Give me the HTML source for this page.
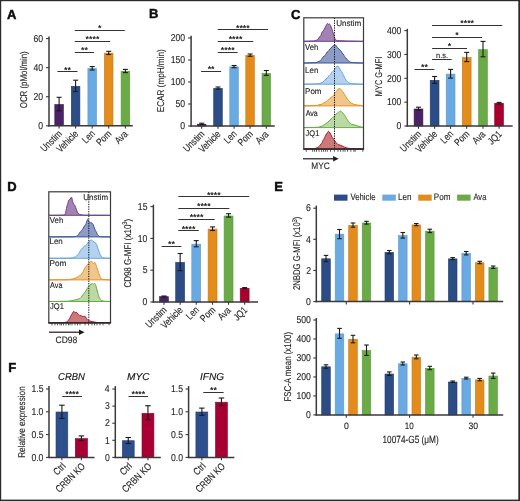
<!DOCTYPE html>
<html><head><meta charset="utf-8"><style>
html,body{margin:0;padding:0;background:#fff;}
svg{display:block;font-family:"Liberation Sans", sans-serif;will-change:transform;text-rendering:geometricPrecision;}
</style></head><body>
<svg width="520" height="501" viewBox="0 0 520 501">
<rect width="520" height="501" fill="#fff"/>
<text transform="translate(7.08 18.50)" font-size="13" fill="#0d0d0d" font-weight="bold" stroke="#0d0d0d" stroke-width="0.45">A</text>
<line x1="49.00" y1="36.50" x2="49.00" y2="126.50" stroke="#3a3a3a" stroke-width="1.5"/>
<line x1="46.00" y1="125.80" x2="49.00" y2="125.80" stroke="#3a3a3a" stroke-width="1.1"/>
<text transform="translate(38.20 129.00) scale(0.865 1.000)" font-size="10.0" fill="#262626" stroke="#262626" stroke-width="0.12">0</text>
<line x1="46.00" y1="96.73" x2="49.00" y2="96.73" stroke="#3a3a3a" stroke-width="1.1"/>
<text transform="translate(33.40 99.93) scale(0.865 1.000)" font-size="10.0" fill="#262626" stroke="#262626" stroke-width="0.12">20</text>
<line x1="46.00" y1="67.67" x2="49.00" y2="67.67" stroke="#3a3a3a" stroke-width="1.1"/>
<text transform="translate(33.40 70.87) scale(0.865 1.000)" font-size="10.0" fill="#262626" stroke="#262626" stroke-width="0.12">40</text>
<line x1="46.00" y1="38.60" x2="49.00" y2="38.60" stroke="#3a3a3a" stroke-width="1.1"/>
<text transform="translate(33.40 41.80) scale(0.865 1.000)" font-size="10.0" fill="#262626" stroke="#262626" stroke-width="0.12">60</text>
<rect x="54.80" y="104.50" width="8.60" height="21.30" fill="#4b2266" stroke="#3a1850" stroke-width="0.6"/>
<rect x="71.30" y="86.30" width="8.60" height="39.50" fill="#2b4c85" stroke="#213d6e" stroke-width="0.6"/>
<rect x="87.90" y="68.60" width="8.60" height="57.20" fill="#6aaae2" stroke="#5a98d0" stroke-width="0.6"/>
<rect x="104.40" y="53.20" width="8.60" height="72.60" fill="#e38c1c" stroke="#c97a12" stroke-width="0.6"/>
<rect x="121.10" y="71.30" width="8.60" height="54.50" fill="#6aab48" stroke="#5a993a" stroke-width="0.6"/>
<line x1="59.10" y1="97.30" x2="59.10" y2="110.80" stroke="#1a1a1a" stroke-width="1.1"/>
<line x1="56.60" y1="97.30" x2="61.60" y2="97.30" stroke="#1a1a1a" stroke-width="1.1"/>
<line x1="56.60" y1="110.80" x2="61.60" y2="110.80" stroke="#1a1a1a" stroke-width="1.1"/>
<line x1="75.60" y1="80.20" x2="75.60" y2="91.50" stroke="#1a1a1a" stroke-width="1.1"/>
<line x1="73.10" y1="80.20" x2="78.10" y2="80.20" stroke="#1a1a1a" stroke-width="1.1"/>
<line x1="73.10" y1="91.50" x2="78.10" y2="91.50" stroke="#1a1a1a" stroke-width="1.1"/>
<line x1="92.20" y1="66.60" x2="92.20" y2="70.00" stroke="#1a1a1a" stroke-width="1.1"/>
<line x1="89.70" y1="66.60" x2="94.70" y2="66.60" stroke="#1a1a1a" stroke-width="1.1"/>
<line x1="89.70" y1="70.00" x2="94.70" y2="70.00" stroke="#1a1a1a" stroke-width="1.1"/>
<line x1="108.70" y1="51.30" x2="108.70" y2="54.50" stroke="#1a1a1a" stroke-width="1.1"/>
<line x1="106.20" y1="51.30" x2="111.20" y2="51.30" stroke="#1a1a1a" stroke-width="1.1"/>
<line x1="106.20" y1="54.50" x2="111.20" y2="54.50" stroke="#1a1a1a" stroke-width="1.1"/>
<line x1="125.40" y1="69.40" x2="125.40" y2="72.60" stroke="#1a1a1a" stroke-width="1.1"/>
<line x1="122.90" y1="69.40" x2="127.90" y2="69.40" stroke="#1a1a1a" stroke-width="1.1"/>
<line x1="122.90" y1="72.60" x2="127.90" y2="72.60" stroke="#1a1a1a" stroke-width="1.1"/>
<line x1="48.30" y1="125.80" x2="132.80" y2="125.80" stroke="#3a3a3a" stroke-width="1.5"/>
<line x1="59.10" y1="125.80" x2="59.10" y2="128.60" stroke="#3a3a3a" stroke-width="1.1"/>
<line x1="75.60" y1="125.80" x2="75.60" y2="128.60" stroke="#3a3a3a" stroke-width="1.1"/>
<line x1="92.20" y1="125.80" x2="92.20" y2="128.60" stroke="#3a3a3a" stroke-width="1.1"/>
<line x1="108.70" y1="125.80" x2="108.70" y2="128.60" stroke="#3a3a3a" stroke-width="1.1"/>
<line x1="125.40" y1="125.80" x2="125.40" y2="128.60" stroke="#3a3a3a" stroke-width="1.1"/>
<line x1="74.80" y1="30.50" x2="124.80" y2="30.50" stroke="#333333" stroke-width="1.0"/>
<text transform="translate(98.08 31.00)" font-size="8.8" fill="#1a1a1a" font-weight="bold">*</text>
<line x1="74.80" y1="41.50" x2="110.10" y2="41.50" stroke="#333333" stroke-width="1.0"/>
<text transform="translate(85.61 41.70)" font-size="8.8" fill="#1a1a1a" font-weight="bold">****</text>
<line x1="74.80" y1="52.50" x2="94.10" y2="52.50" stroke="#333333" stroke-width="1.0"/>
<text transform="translate(81.02 52.90)" font-size="8.8" fill="#1a1a1a" font-weight="bold">**</text>
<line x1="57.40" y1="71.50" x2="77.50" y2="71.50" stroke="#333333" stroke-width="1.0"/>
<text transform="translate(64.02 72.50)" font-size="8.8" fill="#1a1a1a" font-weight="bold">**</text>
<text transform="translate(62.45 134.45) rotate(-45) scale(0.810 1.000)" font-size="10.0" text-anchor="end" fill="#262626" stroke="#262626" stroke-width="0.12">Unstim</text>
<text transform="translate(78.86 134.54) rotate(-45) scale(0.810 1.000)" font-size="10.0" text-anchor="end" fill="#262626" stroke="#262626" stroke-width="0.12">Vehicle</text>
<text transform="translate(95.59 134.41) rotate(-45) scale(0.810 1.000)" font-size="10.0" text-anchor="end" fill="#262626" stroke="#262626" stroke-width="0.12">Len</text>
<text transform="translate(112.05 134.45) rotate(-45) scale(0.810 1.000)" font-size="10.0" text-anchor="end" fill="#262626" stroke="#262626" stroke-width="0.12">Pom</text>
<text transform="translate(128.40 134.80) rotate(-45) scale(0.810 1.000)" font-size="10.0" text-anchor="end" fill="#262626" stroke="#262626" stroke-width="0.12">Ava</text>
<text transform="translate(26.80 108.25) rotate(-90) scale(0.805 1.000)" font-size="9.8" fill="#262626" stroke="#262626" stroke-width="0.12">OCR (pMol/min)</text>
<text transform="translate(149.06 18.30)" font-size="13" fill="#0d0d0d" font-weight="bold" stroke="#0d0d0d" stroke-width="0.45">B</text>
<line x1="191.10" y1="35.80" x2="191.10" y2="126.70" stroke="#3a3a3a" stroke-width="1.5"/>
<line x1="188.10" y1="126.00" x2="191.10" y2="126.00" stroke="#3a3a3a" stroke-width="1.1"/>
<text transform="translate(180.30 129.20) scale(0.865 1.000)" font-size="10.0" fill="#262626" stroke="#262626" stroke-width="0.12">0</text>
<line x1="188.10" y1="104.00" x2="191.10" y2="104.00" stroke="#3a3a3a" stroke-width="1.1"/>
<text transform="translate(175.50 107.20) scale(0.865 1.000)" font-size="10.0" fill="#262626" stroke="#262626" stroke-width="0.12">50</text>
<line x1="188.10" y1="82.00" x2="191.10" y2="82.00" stroke="#3a3a3a" stroke-width="1.1"/>
<text transform="translate(170.70 85.20) scale(0.865 1.000)" font-size="10.0" fill="#262626" stroke="#262626" stroke-width="0.12">100</text>
<line x1="188.10" y1="60.00" x2="191.10" y2="60.00" stroke="#3a3a3a" stroke-width="1.1"/>
<text transform="translate(170.70 63.20) scale(0.865 1.000)" font-size="10.0" fill="#262626" stroke="#262626" stroke-width="0.12">150</text>
<line x1="188.10" y1="38.00" x2="191.10" y2="38.00" stroke="#3a3a3a" stroke-width="1.1"/>
<text transform="translate(170.70 41.20) scale(0.865 1.000)" font-size="10.0" fill="#262626" stroke="#262626" stroke-width="0.12">200</text>
<rect x="197.40" y="124.20" width="8.60" height="1.80" fill="#4b2266" stroke="#3a1850" stroke-width="0.6"/>
<rect x="213.70" y="88.40" width="8.60" height="37.60" fill="#2b4c85" stroke="#213d6e" stroke-width="0.6"/>
<rect x="229.80" y="66.90" width="8.60" height="59.10" fill="#6aaae2" stroke="#5a98d0" stroke-width="0.6"/>
<rect x="245.80" y="55.50" width="8.60" height="70.50" fill="#e38c1c" stroke="#c97a12" stroke-width="0.6"/>
<rect x="262.00" y="73.50" width="8.60" height="52.50" fill="#6aab48" stroke="#5a993a" stroke-width="0.6"/>
<line x1="201.70" y1="123.20" x2="201.70" y2="124.60" stroke="#1a1a1a" stroke-width="1.1"/>
<line x1="199.20" y1="123.20" x2="204.20" y2="123.20" stroke="#1a1a1a" stroke-width="1.1"/>
<line x1="199.20" y1="124.60" x2="204.20" y2="124.60" stroke="#1a1a1a" stroke-width="1.1"/>
<line x1="218.00" y1="87.00" x2="218.00" y2="89.20" stroke="#1a1a1a" stroke-width="1.1"/>
<line x1="215.50" y1="87.00" x2="220.50" y2="87.00" stroke="#1a1a1a" stroke-width="1.1"/>
<line x1="215.50" y1="89.20" x2="220.50" y2="89.20" stroke="#1a1a1a" stroke-width="1.1"/>
<line x1="234.10" y1="65.50" x2="234.10" y2="67.70" stroke="#1a1a1a" stroke-width="1.1"/>
<line x1="231.60" y1="65.50" x2="236.60" y2="65.50" stroke="#1a1a1a" stroke-width="1.1"/>
<line x1="231.60" y1="67.70" x2="236.60" y2="67.70" stroke="#1a1a1a" stroke-width="1.1"/>
<line x1="250.10" y1="54.00" x2="250.10" y2="56.30" stroke="#1a1a1a" stroke-width="1.1"/>
<line x1="247.60" y1="54.00" x2="252.60" y2="54.00" stroke="#1a1a1a" stroke-width="1.1"/>
<line x1="247.60" y1="56.30" x2="252.60" y2="56.30" stroke="#1a1a1a" stroke-width="1.1"/>
<line x1="266.30" y1="70.50" x2="266.30" y2="75.40" stroke="#1a1a1a" stroke-width="1.1"/>
<line x1="263.80" y1="70.50" x2="268.80" y2="70.50" stroke="#1a1a1a" stroke-width="1.1"/>
<line x1="263.80" y1="75.40" x2="268.80" y2="75.40" stroke="#1a1a1a" stroke-width="1.1"/>
<line x1="190.40" y1="126.00" x2="274.80" y2="126.00" stroke="#3a3a3a" stroke-width="1.5"/>
<line x1="201.70" y1="126.00" x2="201.70" y2="128.80" stroke="#3a3a3a" stroke-width="1.1"/>
<line x1="218.00" y1="126.00" x2="218.00" y2="128.80" stroke="#3a3a3a" stroke-width="1.1"/>
<line x1="234.10" y1="126.00" x2="234.10" y2="128.80" stroke="#3a3a3a" stroke-width="1.1"/>
<line x1="250.10" y1="126.00" x2="250.10" y2="128.80" stroke="#3a3a3a" stroke-width="1.1"/>
<line x1="266.30" y1="126.00" x2="266.30" y2="128.80" stroke="#3a3a3a" stroke-width="1.1"/>
<line x1="217.80" y1="29.50" x2="267.90" y2="29.50" stroke="#333333" stroke-width="1.0"/>
<text transform="translate(236.01 30.50)" font-size="8.8" fill="#1a1a1a" font-weight="bold">****</text>
<line x1="217.80" y1="41.50" x2="253.20" y2="41.50" stroke="#333333" stroke-width="1.0"/>
<text transform="translate(228.66 41.90)" font-size="8.8" fill="#1a1a1a" font-weight="bold">****</text>
<line x1="217.80" y1="52.50" x2="237.60" y2="52.50" stroke="#333333" stroke-width="1.0"/>
<text transform="translate(220.86 52.60)" font-size="8.8" fill="#1a1a1a" font-weight="bold">****</text>
<line x1="201.10" y1="71.50" x2="221.10" y2="71.50" stroke="#333333" stroke-width="1.0"/>
<text transform="translate(207.67 72.00)" font-size="8.8" fill="#1a1a1a" font-weight="bold">**</text>
<text transform="translate(205.05 134.65) rotate(-45) scale(0.810 1.000)" font-size="10.0" text-anchor="end" fill="#262626" stroke="#262626" stroke-width="0.12">Unstim</text>
<text transform="translate(221.26 134.74) rotate(-45) scale(0.810 1.000)" font-size="10.0" text-anchor="end" fill="#262626" stroke="#262626" stroke-width="0.12">Vehicle</text>
<text transform="translate(237.49 134.61) rotate(-45) scale(0.810 1.000)" font-size="10.0" text-anchor="end" fill="#262626" stroke="#262626" stroke-width="0.12">Len</text>
<text transform="translate(253.45 134.65) rotate(-45) scale(0.810 1.000)" font-size="10.0" text-anchor="end" fill="#262626" stroke="#262626" stroke-width="0.12">Pom</text>
<text transform="translate(269.30 135.00) rotate(-45) scale(0.810 1.000)" font-size="10.0" text-anchor="end" fill="#262626" stroke="#262626" stroke-width="0.12">Ava</text>
<text transform="translate(163.50 112.25) rotate(-90) scale(0.832 1.000)" font-size="9.8" fill="#262626" stroke="#262626" stroke-width="0.12">ECAR (mpH/min)</text>
<text transform="translate(290.88 18.50)" font-size="13" fill="#0d0d0d" font-weight="bold" stroke="#0d0d0d" stroke-width="0.45">C</text>
<line x1="407.30" y1="28.80" x2="407.30" y2="126.70" stroke="#3a3a3a" stroke-width="1.5"/>
<line x1="404.30" y1="126.00" x2="407.30" y2="126.00" stroke="#3a3a3a" stroke-width="1.1"/>
<text transform="translate(396.50 129.20) scale(0.865 1.000)" font-size="10.0" fill="#262626" stroke="#262626" stroke-width="0.12">0</text>
<line x1="404.30" y1="102.15" x2="407.30" y2="102.15" stroke="#3a3a3a" stroke-width="1.1"/>
<text transform="translate(386.90 105.35) scale(0.865 1.000)" font-size="10.0" fill="#262626" stroke="#262626" stroke-width="0.12">100</text>
<line x1="404.30" y1="78.30" x2="407.30" y2="78.30" stroke="#3a3a3a" stroke-width="1.1"/>
<text transform="translate(386.90 81.50) scale(0.865 1.000)" font-size="10.0" fill="#262626" stroke="#262626" stroke-width="0.12">200</text>
<line x1="404.30" y1="54.45" x2="407.30" y2="54.45" stroke="#3a3a3a" stroke-width="1.1"/>
<text transform="translate(386.90 57.65) scale(0.865 1.000)" font-size="10.0" fill="#262626" stroke="#262626" stroke-width="0.12">300</text>
<line x1="404.30" y1="30.60" x2="407.30" y2="30.60" stroke="#3a3a3a" stroke-width="1.1"/>
<text transform="translate(386.90 33.80) scale(0.865 1.000)" font-size="10.0" fill="#262626" stroke="#262626" stroke-width="0.12">400</text>
<rect x="414.10" y="109.00" width="8.80" height="17.00" fill="#4b2266" stroke="#3a1850" stroke-width="0.6"/>
<rect x="430.20" y="80.30" width="8.80" height="45.70" fill="#2b4c85" stroke="#213d6e" stroke-width="0.6"/>
<rect x="446.20" y="74.10" width="8.80" height="51.90" fill="#6aaae2" stroke="#5a98d0" stroke-width="0.6"/>
<rect x="462.30" y="57.60" width="8.80" height="68.40" fill="#e38c1c" stroke="#c97a12" stroke-width="0.6"/>
<rect x="478.60" y="49.70" width="8.80" height="76.30" fill="#6aab48" stroke="#5a993a" stroke-width="0.6"/>
<rect x="494.70" y="103.30" width="8.80" height="22.70" fill="#a8002f" stroke="#8c0026" stroke-width="0.6"/>
<line x1="418.50" y1="107.20" x2="418.50" y2="110.00" stroke="#1a1a1a" stroke-width="1.1"/>
<line x1="416.00" y1="107.20" x2="421.00" y2="107.20" stroke="#1a1a1a" stroke-width="1.1"/>
<line x1="416.00" y1="110.00" x2="421.00" y2="110.00" stroke="#1a1a1a" stroke-width="1.1"/>
<line x1="434.60" y1="76.50" x2="434.60" y2="83.40" stroke="#1a1a1a" stroke-width="1.1"/>
<line x1="432.10" y1="76.50" x2="437.10" y2="76.50" stroke="#1a1a1a" stroke-width="1.1"/>
<line x1="432.10" y1="83.40" x2="437.10" y2="83.40" stroke="#1a1a1a" stroke-width="1.1"/>
<line x1="450.60" y1="69.40" x2="450.60" y2="78.10" stroke="#1a1a1a" stroke-width="1.1"/>
<line x1="448.10" y1="69.40" x2="453.10" y2="69.40" stroke="#1a1a1a" stroke-width="1.1"/>
<line x1="448.10" y1="78.10" x2="453.10" y2="78.10" stroke="#1a1a1a" stroke-width="1.1"/>
<line x1="466.70" y1="52.40" x2="466.70" y2="61.60" stroke="#1a1a1a" stroke-width="1.1"/>
<line x1="464.20" y1="52.40" x2="469.20" y2="52.40" stroke="#1a1a1a" stroke-width="1.1"/>
<line x1="464.20" y1="61.60" x2="469.20" y2="61.60" stroke="#1a1a1a" stroke-width="1.1"/>
<line x1="483.00" y1="41.40" x2="483.00" y2="56.80" stroke="#1a1a1a" stroke-width="1.1"/>
<line x1="480.50" y1="41.40" x2="485.50" y2="41.40" stroke="#1a1a1a" stroke-width="1.1"/>
<line x1="480.50" y1="56.80" x2="485.50" y2="56.80" stroke="#1a1a1a" stroke-width="1.1"/>
<line x1="499.10" y1="102.40" x2="499.10" y2="104.00" stroke="#1a1a1a" stroke-width="1.1"/>
<line x1="496.60" y1="102.40" x2="501.60" y2="102.40" stroke="#1a1a1a" stroke-width="1.1"/>
<line x1="496.60" y1="104.00" x2="501.60" y2="104.00" stroke="#1a1a1a" stroke-width="1.1"/>
<line x1="406.60" y1="126.00" x2="512.70" y2="126.00" stroke="#3a3a3a" stroke-width="1.5"/>
<line x1="418.50" y1="126.00" x2="418.50" y2="128.80" stroke="#3a3a3a" stroke-width="1.1"/>
<line x1="434.60" y1="126.00" x2="434.60" y2="128.80" stroke="#3a3a3a" stroke-width="1.1"/>
<line x1="450.60" y1="126.00" x2="450.60" y2="128.80" stroke="#3a3a3a" stroke-width="1.1"/>
<line x1="466.70" y1="126.00" x2="466.70" y2="128.80" stroke="#3a3a3a" stroke-width="1.1"/>
<line x1="483.00" y1="126.00" x2="483.00" y2="128.80" stroke="#3a3a3a" stroke-width="1.1"/>
<line x1="499.10" y1="126.00" x2="499.10" y2="128.80" stroke="#3a3a3a" stroke-width="1.1"/>
<line x1="432.10" y1="25.50" x2="502.20" y2="25.50" stroke="#333333" stroke-width="1.0"/>
<text transform="translate(460.31 26.40)" font-size="8.8" fill="#1a1a1a" font-weight="bold">****</text>
<line x1="432.10" y1="37.50" x2="482.00" y2="37.50" stroke="#333333" stroke-width="1.0"/>
<text transform="translate(455.33 37.90)" font-size="8.8" fill="#1a1a1a" font-weight="bold">*</text>
<line x1="432.10" y1="48.50" x2="467.00" y2="48.50" stroke="#333333" stroke-width="1.0"/>
<text transform="translate(447.83 48.90)" font-size="8.8" fill="#1a1a1a" font-weight="bold">*</text>
<line x1="432.10" y1="59.50" x2="451.70" y2="59.50" stroke="#333333" stroke-width="1.0"/>
<text transform="translate(436.03 57.90) scale(0.950 1.000)" font-size="7.8" fill="#262626" stroke="#262626" stroke-width="0.12">n.s.</text>
<line x1="414.50" y1="69.50" x2="434.40" y2="69.50" stroke="#333333" stroke-width="1.0"/>
<text transform="translate(421.02 70.00)" font-size="8.8" fill="#1a1a1a" font-weight="bold">**</text>
<text transform="translate(421.85 134.65) rotate(-45) scale(0.810 1.000)" font-size="10.0" text-anchor="end" fill="#262626" stroke="#262626" stroke-width="0.12">Unstim</text>
<text transform="translate(437.86 134.74) rotate(-45) scale(0.810 1.000)" font-size="10.0" text-anchor="end" fill="#262626" stroke="#262626" stroke-width="0.12">Vehicle</text>
<text transform="translate(453.99 134.61) rotate(-45) scale(0.810 1.000)" font-size="10.0" text-anchor="end" fill="#262626" stroke="#262626" stroke-width="0.12">Len</text>
<text transform="translate(470.05 134.65) rotate(-45) scale(0.810 1.000)" font-size="10.0" text-anchor="end" fill="#262626" stroke="#262626" stroke-width="0.12">Pom</text>
<text transform="translate(486.00 135.00) rotate(-45) scale(0.810 1.000)" font-size="10.0" text-anchor="end" fill="#262626" stroke="#262626" stroke-width="0.12">Ava</text>
<text transform="translate(502.35 134.75) rotate(-45) scale(0.810 1.000)" font-size="10.0" text-anchor="end" fill="#262626" stroke="#262626" stroke-width="0.12">JQ1</text>
<text transform="translate(381.60 96.19) rotate(-90) scale(0.757 1.000)" font-size="9.8" fill="#262626" stroke="#262626" stroke-width="0.12">MYC G-MFI</text>
<text transform="translate(7.16 191.40)" font-size="13" fill="#0d0d0d" font-weight="bold" stroke="#0d0d0d" stroke-width="0.45">D</text>
<line x1="153.40" y1="204.60" x2="153.40" y2="302.70" stroke="#3a3a3a" stroke-width="1.5"/>
<line x1="150.40" y1="302.00" x2="153.40" y2="302.00" stroke="#3a3a3a" stroke-width="1.1"/>
<text transform="translate(142.60 305.20) scale(0.865 1.000)" font-size="10.0" fill="#262626" stroke="#262626" stroke-width="0.12">0</text>
<line x1="150.40" y1="270.20" x2="153.40" y2="270.20" stroke="#3a3a3a" stroke-width="1.1"/>
<text transform="translate(142.65 273.40) scale(0.865 1.000)" font-size="10.0" fill="#262626" stroke="#262626" stroke-width="0.12">5</text>
<line x1="150.40" y1="238.40" x2="153.40" y2="238.40" stroke="#3a3a3a" stroke-width="1.1"/>
<text transform="translate(137.80 241.60) scale(0.865 1.000)" font-size="10.0" fill="#262626" stroke="#262626" stroke-width="0.12">10</text>
<line x1="150.40" y1="206.60" x2="153.40" y2="206.60" stroke="#3a3a3a" stroke-width="1.1"/>
<text transform="translate(137.84 209.80) scale(0.865 1.000)" font-size="10.0" fill="#262626" stroke="#262626" stroke-width="0.12">15</text>
<rect x="159.50" y="296.70" width="8.90" height="5.30" fill="#4b2266" stroke="#3a1850" stroke-width="0.6"/>
<rect x="175.70" y="262.40" width="8.90" height="39.60" fill="#2b4c85" stroke="#213d6e" stroke-width="0.6"/>
<rect x="191.80" y="244.20" width="8.90" height="57.80" fill="#6aaae2" stroke="#5a98d0" stroke-width="0.6"/>
<rect x="208.10" y="229.10" width="8.90" height="72.90" fill="#e38c1c" stroke="#c97a12" stroke-width="0.6"/>
<rect x="224.10" y="216.00" width="8.90" height="86.00" fill="#6aab48" stroke="#5a993a" stroke-width="0.6"/>
<rect x="240.20" y="288.40" width="8.90" height="13.60" fill="#a8002f" stroke="#8c0026" stroke-width="0.6"/>
<line x1="163.95" y1="296.00" x2="163.95" y2="297.00" stroke="#1a1a1a" stroke-width="1.1"/>
<line x1="161.45" y1="296.00" x2="166.45" y2="296.00" stroke="#1a1a1a" stroke-width="1.1"/>
<line x1="161.45" y1="297.00" x2="166.45" y2="297.00" stroke="#1a1a1a" stroke-width="1.1"/>
<line x1="180.15" y1="253.50" x2="180.15" y2="270.70" stroke="#1a1a1a" stroke-width="1.1"/>
<line x1="177.65" y1="253.50" x2="182.65" y2="253.50" stroke="#1a1a1a" stroke-width="1.1"/>
<line x1="177.65" y1="270.70" x2="182.65" y2="270.70" stroke="#1a1a1a" stroke-width="1.1"/>
<line x1="196.25" y1="240.60" x2="196.25" y2="246.80" stroke="#1a1a1a" stroke-width="1.1"/>
<line x1="193.75" y1="240.60" x2="198.75" y2="240.60" stroke="#1a1a1a" stroke-width="1.1"/>
<line x1="193.75" y1="246.80" x2="198.75" y2="246.80" stroke="#1a1a1a" stroke-width="1.1"/>
<line x1="212.55" y1="226.90" x2="212.55" y2="230.50" stroke="#1a1a1a" stroke-width="1.1"/>
<line x1="210.05" y1="226.90" x2="215.05" y2="226.90" stroke="#1a1a1a" stroke-width="1.1"/>
<line x1="210.05" y1="230.50" x2="215.05" y2="230.50" stroke="#1a1a1a" stroke-width="1.1"/>
<line x1="228.55" y1="213.70" x2="228.55" y2="217.10" stroke="#1a1a1a" stroke-width="1.1"/>
<line x1="226.05" y1="213.70" x2="231.05" y2="213.70" stroke="#1a1a1a" stroke-width="1.1"/>
<line x1="226.05" y1="217.10" x2="231.05" y2="217.10" stroke="#1a1a1a" stroke-width="1.1"/>
<line x1="244.65" y1="287.60" x2="244.65" y2="288.60" stroke="#1a1a1a" stroke-width="1.1"/>
<line x1="242.15" y1="287.60" x2="247.15" y2="287.60" stroke="#1a1a1a" stroke-width="1.1"/>
<line x1="242.15" y1="288.60" x2="247.15" y2="288.60" stroke="#1a1a1a" stroke-width="1.1"/>
<line x1="152.70" y1="302.00" x2="258.10" y2="302.00" stroke="#3a3a3a" stroke-width="1.5"/>
<line x1="163.95" y1="302.00" x2="163.95" y2="304.80" stroke="#3a3a3a" stroke-width="1.1"/>
<line x1="180.15" y1="302.00" x2="180.15" y2="304.80" stroke="#3a3a3a" stroke-width="1.1"/>
<line x1="196.25" y1="302.00" x2="196.25" y2="304.80" stroke="#3a3a3a" stroke-width="1.1"/>
<line x1="212.55" y1="302.00" x2="212.55" y2="304.80" stroke="#3a3a3a" stroke-width="1.1"/>
<line x1="228.55" y1="302.00" x2="228.55" y2="304.80" stroke="#3a3a3a" stroke-width="1.1"/>
<line x1="244.65" y1="302.00" x2="244.65" y2="304.80" stroke="#3a3a3a" stroke-width="1.1"/>
<line x1="178.30" y1="196.50" x2="249.20" y2="196.50" stroke="#333333" stroke-width="1.0"/>
<text transform="translate(206.91 197.60)" font-size="8.8" fill="#1a1a1a" font-weight="bold">****</text>
<line x1="178.30" y1="208.50" x2="229.30" y2="208.50" stroke="#333333" stroke-width="1.0"/>
<text transform="translate(196.96 209.10)" font-size="8.8" fill="#1a1a1a" font-weight="bold">****</text>
<line x1="178.30" y1="219.50" x2="214.70" y2="219.50" stroke="#333333" stroke-width="1.0"/>
<text transform="translate(189.66 220.30)" font-size="8.8" fill="#1a1a1a" font-weight="bold">****</text>
<line x1="178.30" y1="230.50" x2="198.70" y2="230.50" stroke="#333333" stroke-width="1.0"/>
<text transform="translate(181.66 231.60)" font-size="8.8" fill="#1a1a1a" font-weight="bold">****</text>
<line x1="161.60" y1="246.50" x2="181.40" y2="246.50" stroke="#333333" stroke-width="1.0"/>
<text transform="translate(168.07 247.20)" font-size="8.8" fill="#1a1a1a" font-weight="bold">**</text>
<text transform="translate(167.30 310.65) rotate(-45) scale(0.810 1.000)" font-size="10.0" text-anchor="end" fill="#262626" stroke="#262626" stroke-width="0.12">Unstim</text>
<text transform="translate(183.41 310.74) rotate(-45) scale(0.810 1.000)" font-size="10.0" text-anchor="end" fill="#262626" stroke="#262626" stroke-width="0.12">Vehicle</text>
<text transform="translate(199.64 310.61) rotate(-45) scale(0.810 1.000)" font-size="10.0" text-anchor="end" fill="#262626" stroke="#262626" stroke-width="0.12">Len</text>
<text transform="translate(215.90 310.65) rotate(-45) scale(0.810 1.000)" font-size="10.0" text-anchor="end" fill="#262626" stroke="#262626" stroke-width="0.12">Pom</text>
<text transform="translate(231.55 311.00) rotate(-45) scale(0.810 1.000)" font-size="10.0" text-anchor="end" fill="#262626" stroke="#262626" stroke-width="0.12">Ava</text>
<text transform="translate(247.90 310.75) rotate(-45) scale(0.810 1.000)" font-size="10.0" text-anchor="end" fill="#262626" stroke="#262626" stroke-width="0.12">JQ1</text>
<text transform="translate(130.50 287.60) rotate(-90) scale(0.814 1.000)" font-size="9.8" fill="#262626" stroke="#262626" stroke-width="0.12">CD98 G-MFI (x10<tspan font-size="7" dy="-3.6">3</tspan><tspan dy="3.6">)</tspan></text>
<text transform="translate(274.15 191.40)" font-size="13" fill="#0d0d0d" font-weight="bold" stroke="#0d0d0d" stroke-width="0.45">E</text>
<rect x="334.00" y="194.60" width="13.50" height="6.10" fill="#2b4c85"/>
<text transform="translate(350.46 200.10) scale(0.828 1.000)" font-size="9.4" fill="#262626" stroke="#262626" stroke-width="0.12">Vehicle</text>
<rect x="382.30" y="194.60" width="13.50" height="6.10" fill="#6aaae2"/>
<text transform="translate(398.05 200.10) scale(0.868 1.000)" font-size="9.4" fill="#262626" stroke="#262626" stroke-width="0.12">Len</text>
<rect x="418.20" y="194.60" width="13.50" height="6.10" fill="#e38c1c"/>
<text transform="translate(433.85 200.10) scale(0.861 1.000)" font-size="9.4" fill="#262626" stroke="#262626" stroke-width="0.12">Pom</text>
<rect x="457.10" y="194.60" width="13.50" height="6.10" fill="#6aab48"/>
<text transform="translate(473.40 200.10) scale(0.811 1.000)" font-size="9.4" fill="#262626" stroke="#262626" stroke-width="0.12">Ava</text>
<line x1="316.30" y1="205.60" x2="316.30" y2="302.30" stroke="#3a3a3a" stroke-width="1.5"/>
<line x1="313.30" y1="301.60" x2="316.30" y2="301.60" stroke="#3a3a3a" stroke-width="1.1"/>
<text transform="translate(306.00 304.80) scale(0.865 1.000)" font-size="10.0" fill="#262626" stroke="#262626" stroke-width="0.12">0</text>
<line x1="313.30" y1="270.47" x2="316.30" y2="270.47" stroke="#3a3a3a" stroke-width="1.1"/>
<text transform="translate(306.13 273.67) scale(0.865 1.000)" font-size="10.0" fill="#262626" stroke="#262626" stroke-width="0.12">2</text>
<line x1="313.30" y1="239.33" x2="316.30" y2="239.33" stroke="#3a3a3a" stroke-width="1.1"/>
<text transform="translate(305.96 242.53) scale(0.865 1.000)" font-size="10.0" fill="#262626" stroke="#262626" stroke-width="0.12">4</text>
<line x1="313.30" y1="208.20" x2="316.30" y2="208.20" stroke="#3a3a3a" stroke-width="1.1"/>
<text transform="translate(306.05 211.40) scale(0.865 1.000)" font-size="10.0" fill="#262626" stroke="#262626" stroke-width="0.12">6</text>
<rect x="321.70" y="258.80" width="8.60" height="42.80" fill="#2b4c85" stroke="#213d6e" stroke-width="0.6"/>
<rect x="335.20" y="234.20" width="8.60" height="67.40" fill="#6aaae2" stroke="#5a98d0" stroke-width="0.6"/>
<rect x="348.70" y="225.40" width="8.60" height="76.20" fill="#e38c1c" stroke="#c97a12" stroke-width="0.6"/>
<rect x="362.20" y="223.00" width="8.60" height="78.60" fill="#6aab48" stroke="#5a993a" stroke-width="0.6"/>
<rect x="385.00" y="252.40" width="8.60" height="49.20" fill="#2b4c85" stroke="#213d6e" stroke-width="0.6"/>
<rect x="398.50" y="235.60" width="8.60" height="66.00" fill="#6aaae2" stroke="#5a98d0" stroke-width="0.6"/>
<rect x="412.00" y="224.90" width="8.60" height="76.70" fill="#e38c1c" stroke="#c97a12" stroke-width="0.6"/>
<rect x="425.50" y="231.20" width="8.60" height="70.40" fill="#6aab48" stroke="#5a993a" stroke-width="0.6"/>
<rect x="448.40" y="258.90" width="8.60" height="42.70" fill="#2b4c85" stroke="#213d6e" stroke-width="0.6"/>
<rect x="461.90" y="253.50" width="8.60" height="48.10" fill="#6aaae2" stroke="#5a98d0" stroke-width="0.6"/>
<rect x="475.40" y="262.80" width="8.60" height="38.80" fill="#e38c1c" stroke="#c97a12" stroke-width="0.6"/>
<rect x="488.90" y="267.50" width="8.60" height="34.10" fill="#6aab48" stroke="#5a993a" stroke-width="0.6"/>
<line x1="326.00" y1="255.40" x2="326.00" y2="261.60" stroke="#1a1a1a" stroke-width="1.1"/>
<line x1="323.75" y1="255.40" x2="328.25" y2="255.40" stroke="#1a1a1a" stroke-width="1.1"/>
<line x1="323.75" y1="261.60" x2="328.25" y2="261.60" stroke="#1a1a1a" stroke-width="1.1"/>
<line x1="339.50" y1="229.50" x2="339.50" y2="238.70" stroke="#1a1a1a" stroke-width="1.1"/>
<line x1="337.25" y1="229.50" x2="341.75" y2="229.50" stroke="#1a1a1a" stroke-width="1.1"/>
<line x1="337.25" y1="238.70" x2="341.75" y2="238.70" stroke="#1a1a1a" stroke-width="1.1"/>
<line x1="353.00" y1="223.00" x2="353.00" y2="227.20" stroke="#1a1a1a" stroke-width="1.1"/>
<line x1="350.75" y1="223.00" x2="355.25" y2="223.00" stroke="#1a1a1a" stroke-width="1.1"/>
<line x1="350.75" y1="227.20" x2="355.25" y2="227.20" stroke="#1a1a1a" stroke-width="1.1"/>
<line x1="366.50" y1="221.30" x2="366.50" y2="224.10" stroke="#1a1a1a" stroke-width="1.1"/>
<line x1="364.25" y1="221.30" x2="368.75" y2="221.30" stroke="#1a1a1a" stroke-width="1.1"/>
<line x1="364.25" y1="224.10" x2="368.75" y2="224.10" stroke="#1a1a1a" stroke-width="1.1"/>
<line x1="389.30" y1="250.50" x2="389.30" y2="253.70" stroke="#1a1a1a" stroke-width="1.1"/>
<line x1="387.05" y1="250.50" x2="391.55" y2="250.50" stroke="#1a1a1a" stroke-width="1.1"/>
<line x1="387.05" y1="253.70" x2="391.55" y2="253.70" stroke="#1a1a1a" stroke-width="1.1"/>
<line x1="402.80" y1="232.50" x2="402.80" y2="238.10" stroke="#1a1a1a" stroke-width="1.1"/>
<line x1="400.55" y1="232.50" x2="405.05" y2="232.50" stroke="#1a1a1a" stroke-width="1.1"/>
<line x1="400.55" y1="238.10" x2="405.05" y2="238.10" stroke="#1a1a1a" stroke-width="1.1"/>
<line x1="416.30" y1="223.50" x2="416.30" y2="225.70" stroke="#1a1a1a" stroke-width="1.1"/>
<line x1="414.05" y1="223.50" x2="418.55" y2="223.50" stroke="#1a1a1a" stroke-width="1.1"/>
<line x1="414.05" y1="225.70" x2="418.55" y2="225.70" stroke="#1a1a1a" stroke-width="1.1"/>
<line x1="429.80" y1="229.20" x2="429.80" y2="232.60" stroke="#1a1a1a" stroke-width="1.1"/>
<line x1="427.55" y1="229.20" x2="432.05" y2="229.20" stroke="#1a1a1a" stroke-width="1.1"/>
<line x1="427.55" y1="232.60" x2="432.05" y2="232.60" stroke="#1a1a1a" stroke-width="1.1"/>
<line x1="452.70" y1="257.60" x2="452.70" y2="259.60" stroke="#1a1a1a" stroke-width="1.1"/>
<line x1="450.45" y1="257.60" x2="454.95" y2="257.60" stroke="#1a1a1a" stroke-width="1.1"/>
<line x1="450.45" y1="259.60" x2="454.95" y2="259.60" stroke="#1a1a1a" stroke-width="1.1"/>
<line x1="466.20" y1="251.50" x2="466.20" y2="254.90" stroke="#1a1a1a" stroke-width="1.1"/>
<line x1="463.95" y1="251.50" x2="468.45" y2="251.50" stroke="#1a1a1a" stroke-width="1.1"/>
<line x1="463.95" y1="254.90" x2="468.45" y2="254.90" stroke="#1a1a1a" stroke-width="1.1"/>
<line x1="479.70" y1="261.30" x2="479.70" y2="263.70" stroke="#1a1a1a" stroke-width="1.1"/>
<line x1="477.45" y1="261.30" x2="481.95" y2="261.30" stroke="#1a1a1a" stroke-width="1.1"/>
<line x1="477.45" y1="263.70" x2="481.95" y2="263.70" stroke="#1a1a1a" stroke-width="1.1"/>
<line x1="493.20" y1="266.00" x2="493.20" y2="268.40" stroke="#1a1a1a" stroke-width="1.1"/>
<line x1="490.95" y1="266.00" x2="495.45" y2="266.00" stroke="#1a1a1a" stroke-width="1.1"/>
<line x1="490.95" y1="268.40" x2="495.45" y2="268.40" stroke="#1a1a1a" stroke-width="1.1"/>
<line x1="315.60" y1="301.60" x2="503.20" y2="301.60" stroke="#3a3a3a" stroke-width="1.5"/>
<line x1="346.30" y1="301.60" x2="346.30" y2="304.40" stroke="#3a3a3a" stroke-width="1.1"/>
<line x1="409.60" y1="301.60" x2="409.60" y2="304.40" stroke="#3a3a3a" stroke-width="1.1"/>
<line x1="473.00" y1="301.60" x2="473.00" y2="304.40" stroke="#3a3a3a" stroke-width="1.1"/>
<text transform="translate(300.20 290.09) rotate(-90) scale(0.788 1.000)" font-size="9.8" fill="#262626" stroke="#262626" stroke-width="0.12">2NBDG G-MFI (x10<tspan font-size="7" dy="-3.6">3</tspan><tspan dy="3.6">)</tspan></text>
<line x1="316.30" y1="318.00" x2="316.30" y2="415.60" stroke="#3a3a3a" stroke-width="1.5"/>
<line x1="313.30" y1="414.90" x2="316.30" y2="414.90" stroke="#3a3a3a" stroke-width="1.1"/>
<text transform="translate(306.00 418.10) scale(0.865 1.000)" font-size="10.0" fill="#262626" stroke="#262626" stroke-width="0.12">0</text>
<line x1="313.30" y1="395.92" x2="316.30" y2="395.92" stroke="#3a3a3a" stroke-width="1.1"/>
<text transform="translate(296.40 399.12) scale(0.865 1.000)" font-size="10.0" fill="#262626" stroke="#262626" stroke-width="0.12">100</text>
<line x1="313.30" y1="376.94" x2="316.30" y2="376.94" stroke="#3a3a3a" stroke-width="1.1"/>
<text transform="translate(296.40 380.14) scale(0.865 1.000)" font-size="10.0" fill="#262626" stroke="#262626" stroke-width="0.12">200</text>
<line x1="313.30" y1="357.96" x2="316.30" y2="357.96" stroke="#3a3a3a" stroke-width="1.1"/>
<text transform="translate(296.40 361.16) scale(0.865 1.000)" font-size="10.0" fill="#262626" stroke="#262626" stroke-width="0.12">300</text>
<line x1="313.30" y1="338.98" x2="316.30" y2="338.98" stroke="#3a3a3a" stroke-width="1.1"/>
<text transform="translate(296.40 342.18) scale(0.865 1.000)" font-size="10.0" fill="#262626" stroke="#262626" stroke-width="0.12">400</text>
<line x1="313.30" y1="320.00" x2="316.30" y2="320.00" stroke="#3a3a3a" stroke-width="1.1"/>
<text transform="translate(296.40 323.20) scale(0.865 1.000)" font-size="10.0" fill="#262626" stroke="#262626" stroke-width="0.12">500</text>
<rect x="321.70" y="366.80" width="8.60" height="48.10" fill="#2b4c85" stroke="#213d6e" stroke-width="0.6"/>
<rect x="335.20" y="333.90" width="8.60" height="81.00" fill="#6aaae2" stroke="#5a98d0" stroke-width="0.6"/>
<rect x="348.70" y="339.30" width="8.60" height="75.60" fill="#e38c1c" stroke="#c97a12" stroke-width="0.6"/>
<rect x="362.20" y="350.60" width="8.60" height="64.30" fill="#6aab48" stroke="#5a993a" stroke-width="0.6"/>
<rect x="385.00" y="374.00" width="8.60" height="40.90" fill="#2b4c85" stroke="#213d6e" stroke-width="0.6"/>
<rect x="398.50" y="363.80" width="8.60" height="51.10" fill="#6aaae2" stroke="#5a98d0" stroke-width="0.6"/>
<rect x="412.00" y="357.20" width="8.60" height="57.70" fill="#e38c1c" stroke="#c97a12" stroke-width="0.6"/>
<rect x="425.50" y="368.30" width="8.60" height="46.60" fill="#6aab48" stroke="#5a993a" stroke-width="0.6"/>
<rect x="448.40" y="382.00" width="8.60" height="32.90" fill="#2b4c85" stroke="#213d6e" stroke-width="0.6"/>
<rect x="461.90" y="378.40" width="8.60" height="36.50" fill="#6aaae2" stroke="#5a98d0" stroke-width="0.6"/>
<rect x="475.40" y="379.90" width="8.60" height="35.00" fill="#e38c1c" stroke="#c97a12" stroke-width="0.6"/>
<rect x="488.90" y="376.00" width="8.60" height="38.90" fill="#6aab48" stroke="#5a993a" stroke-width="0.6"/>
<line x1="326.00" y1="364.80" x2="326.00" y2="368.20" stroke="#1a1a1a" stroke-width="1.1"/>
<line x1="323.75" y1="364.80" x2="328.25" y2="364.80" stroke="#1a1a1a" stroke-width="1.1"/>
<line x1="323.75" y1="368.20" x2="328.25" y2="368.20" stroke="#1a1a1a" stroke-width="1.1"/>
<line x1="339.50" y1="328.40" x2="339.50" y2="338.30" stroke="#1a1a1a" stroke-width="1.1"/>
<line x1="337.25" y1="328.40" x2="341.75" y2="328.40" stroke="#1a1a1a" stroke-width="1.1"/>
<line x1="337.25" y1="338.30" x2="341.75" y2="338.30" stroke="#1a1a1a" stroke-width="1.1"/>
<line x1="353.00" y1="335.30" x2="353.00" y2="342.80" stroke="#1a1a1a" stroke-width="1.1"/>
<line x1="350.75" y1="335.30" x2="355.25" y2="335.30" stroke="#1a1a1a" stroke-width="1.1"/>
<line x1="350.75" y1="342.80" x2="355.25" y2="342.80" stroke="#1a1a1a" stroke-width="1.1"/>
<line x1="366.50" y1="345.00" x2="366.50" y2="355.40" stroke="#1a1a1a" stroke-width="1.1"/>
<line x1="364.25" y1="345.00" x2="368.75" y2="345.00" stroke="#1a1a1a" stroke-width="1.1"/>
<line x1="364.25" y1="355.40" x2="368.75" y2="355.40" stroke="#1a1a1a" stroke-width="1.1"/>
<line x1="389.30" y1="371.90" x2="389.30" y2="375.50" stroke="#1a1a1a" stroke-width="1.1"/>
<line x1="387.05" y1="371.90" x2="391.55" y2="371.90" stroke="#1a1a1a" stroke-width="1.1"/>
<line x1="387.05" y1="375.50" x2="391.55" y2="375.50" stroke="#1a1a1a" stroke-width="1.1"/>
<line x1="402.80" y1="362.00" x2="402.80" y2="365.00" stroke="#1a1a1a" stroke-width="1.1"/>
<line x1="400.55" y1="362.00" x2="405.05" y2="362.00" stroke="#1a1a1a" stroke-width="1.1"/>
<line x1="400.55" y1="365.00" x2="405.05" y2="365.00" stroke="#1a1a1a" stroke-width="1.1"/>
<line x1="416.30" y1="355.00" x2="416.30" y2="358.80" stroke="#1a1a1a" stroke-width="1.1"/>
<line x1="414.05" y1="355.00" x2="418.55" y2="355.00" stroke="#1a1a1a" stroke-width="1.1"/>
<line x1="414.05" y1="358.80" x2="418.55" y2="358.80" stroke="#1a1a1a" stroke-width="1.1"/>
<line x1="429.80" y1="366.30" x2="429.80" y2="369.70" stroke="#1a1a1a" stroke-width="1.1"/>
<line x1="427.55" y1="366.30" x2="432.05" y2="366.30" stroke="#1a1a1a" stroke-width="1.1"/>
<line x1="427.55" y1="369.70" x2="432.05" y2="369.70" stroke="#1a1a1a" stroke-width="1.1"/>
<line x1="452.70" y1="381.00" x2="452.70" y2="382.40" stroke="#1a1a1a" stroke-width="1.1"/>
<line x1="450.45" y1="381.00" x2="454.95" y2="381.00" stroke="#1a1a1a" stroke-width="1.1"/>
<line x1="450.45" y1="382.40" x2="454.95" y2="382.40" stroke="#1a1a1a" stroke-width="1.1"/>
<line x1="466.20" y1="377.20" x2="466.20" y2="379.00" stroke="#1a1a1a" stroke-width="1.1"/>
<line x1="463.95" y1="377.20" x2="468.45" y2="377.20" stroke="#1a1a1a" stroke-width="1.1"/>
<line x1="463.95" y1="379.00" x2="468.45" y2="379.00" stroke="#1a1a1a" stroke-width="1.1"/>
<line x1="479.70" y1="378.40" x2="479.70" y2="380.80" stroke="#1a1a1a" stroke-width="1.1"/>
<line x1="477.45" y1="378.40" x2="481.95" y2="378.40" stroke="#1a1a1a" stroke-width="1.1"/>
<line x1="477.45" y1="380.80" x2="481.95" y2="380.80" stroke="#1a1a1a" stroke-width="1.1"/>
<line x1="493.20" y1="373.10" x2="493.20" y2="378.40" stroke="#1a1a1a" stroke-width="1.1"/>
<line x1="490.95" y1="373.10" x2="495.45" y2="373.10" stroke="#1a1a1a" stroke-width="1.1"/>
<line x1="490.95" y1="378.40" x2="495.45" y2="378.40" stroke="#1a1a1a" stroke-width="1.1"/>
<line x1="315.60" y1="414.90" x2="503.20" y2="414.90" stroke="#3a3a3a" stroke-width="1.5"/>
<line x1="346.30" y1="414.90" x2="346.30" y2="417.70" stroke="#3a3a3a" stroke-width="1.1"/>
<line x1="409.60" y1="414.90" x2="409.60" y2="417.70" stroke="#3a3a3a" stroke-width="1.1"/>
<line x1="473.00" y1="414.90" x2="473.00" y2="417.70" stroke="#3a3a3a" stroke-width="1.1"/>
<text transform="translate(343.95 428.80) scale(0.931 1.000)" font-size="9.4" fill="#262626" stroke="#262626" stroke-width="0.12">0</text>
<text transform="translate(404.69 428.80) scale(0.862 1.000)" font-size="9.4" fill="#262626" stroke="#262626" stroke-width="0.12">10</text>
<text transform="translate(468.45 428.80) scale(0.925 1.000)" font-size="9.4" fill="#262626" stroke="#262626" stroke-width="0.12">30</text>
<text transform="translate(382.48 443.20) scale(0.796 1.000)" font-size="10.4" fill="#262626" stroke="#262626" stroke-width="0.12">10074-G5 (μM)</text>
<text transform="translate(290.50 401.53) rotate(-90) scale(0.804 1.000)" font-size="9.8" fill="#262626" stroke="#262626" stroke-width="0.12">FSC-A mean (x100)</text>
<text transform="translate(8.15 371.50)" font-size="13" fill="#0d0d0d" font-weight="bold" stroke="#0d0d0d" stroke-width="0.45">F</text>
<line x1="49.00" y1="386.10" x2="49.00" y2="458.10" stroke="#3a3a3a" stroke-width="1.5"/>
<line x1="46.00" y1="457.40" x2="49.00" y2="457.40" stroke="#3a3a3a" stroke-width="1.1"/>
<text transform="translate(31.38 460.60) scale(0.865 1.000)" font-size="10.0" fill="#262626" stroke="#262626" stroke-width="0.12">0.0</text>
<line x1="46.00" y1="434.60" x2="49.00" y2="434.60" stroke="#3a3a3a" stroke-width="1.1"/>
<text transform="translate(31.42 437.80) scale(0.865 1.000)" font-size="10.0" fill="#262626" stroke="#262626" stroke-width="0.12">0.5</text>
<line x1="46.00" y1="411.80" x2="49.00" y2="411.80" stroke="#3a3a3a" stroke-width="1.1"/>
<text transform="translate(31.38 415.00) scale(0.865 1.000)" font-size="10.0" fill="#262626" stroke="#262626" stroke-width="0.12">1.0</text>
<line x1="46.00" y1="389.00" x2="49.00" y2="389.00" stroke="#3a3a3a" stroke-width="1.1"/>
<text transform="translate(31.42 392.20) scale(0.865 1.000)" font-size="10.0" fill="#262626" stroke="#262626" stroke-width="0.12">1.5</text>
<rect x="56.00" y="412.00" width="11.80" height="45.40" fill="#2d4f8e" stroke="#223f74" stroke-width="0.6"/>
<rect x="75.30" y="438.60" width="12.20" height="18.80" fill="#a80032" stroke="#8c0028" stroke-width="0.6"/>
<line x1="61.90" y1="405.20" x2="61.90" y2="418.40" stroke="#1a1a1a" stroke-width="1.1"/>
<line x1="59.15" y1="405.20" x2="64.65" y2="405.20" stroke="#1a1a1a" stroke-width="1.1"/>
<line x1="59.15" y1="418.40" x2="64.65" y2="418.40" stroke="#1a1a1a" stroke-width="1.1"/>
<line x1="81.40" y1="435.90" x2="81.40" y2="440.60" stroke="#1a1a1a" stroke-width="1.1"/>
<line x1="78.65" y1="435.90" x2="84.15" y2="435.90" stroke="#1a1a1a" stroke-width="1.1"/>
<line x1="78.65" y1="440.60" x2="84.15" y2="440.60" stroke="#1a1a1a" stroke-width="1.1"/>
<line x1="48.30" y1="457.40" x2="94.50" y2="457.40" stroke="#3a3a3a" stroke-width="1.5"/>
<line x1="61.90" y1="457.40" x2="61.90" y2="460.20" stroke="#3a3a3a" stroke-width="1.1"/>
<line x1="81.40" y1="457.40" x2="81.40" y2="460.20" stroke="#3a3a3a" stroke-width="1.1"/>
<line x1="62.20" y1="396.50" x2="82.00" y2="396.50" stroke="#333333" stroke-width="1.0"/>
<text transform="translate(65.26 396.70)" font-size="8.8" fill="#1a1a1a" font-weight="bold">****</text>
<text transform="translate(66.27 466.83) rotate(-45) scale(0.810 1.000)" font-size="10.0" text-anchor="end" fill="#262626" stroke="#262626" stroke-width="0.12">Ctrl</text>
<text transform="translate(85.66 466.94) rotate(-45) scale(0.810 1.000)" font-size="10.0" text-anchor="end" fill="#262626" stroke="#262626" stroke-width="0.12">CRBN KO</text>
<text transform="translate(58.08 380.10) scale(0.946 1.000)" font-size="10.0" fill="#111" font-style="italic" stroke="#111" stroke-width="0.12">CRBN</text>
<line x1="115.30" y1="386.10" x2="115.30" y2="458.10" stroke="#3a3a3a" stroke-width="1.5"/>
<line x1="112.30" y1="457.40" x2="115.30" y2="457.40" stroke="#3a3a3a" stroke-width="1.1"/>
<text transform="translate(104.90 460.60) scale(0.865 1.000)" font-size="10.0" fill="#262626" stroke="#262626" stroke-width="0.12">0</text>
<line x1="112.30" y1="440.30" x2="115.30" y2="440.30" stroke="#3a3a3a" stroke-width="1.1"/>
<text transform="translate(104.99 443.50) scale(0.865 1.000)" font-size="10.0" fill="#262626" stroke="#262626" stroke-width="0.12">1</text>
<line x1="112.30" y1="423.20" x2="115.30" y2="423.20" stroke="#3a3a3a" stroke-width="1.1"/>
<text transform="translate(105.03 426.40) scale(0.865 1.000)" font-size="10.0" fill="#262626" stroke="#262626" stroke-width="0.12">2</text>
<line x1="112.30" y1="406.10" x2="115.30" y2="406.10" stroke="#3a3a3a" stroke-width="1.1"/>
<text transform="translate(104.95 409.30) scale(0.865 1.000)" font-size="10.0" fill="#262626" stroke="#262626" stroke-width="0.12">3</text>
<line x1="112.30" y1="389.00" x2="115.30" y2="389.00" stroke="#3a3a3a" stroke-width="1.1"/>
<text transform="translate(104.86 392.20) scale(0.865 1.000)" font-size="10.0" fill="#262626" stroke="#262626" stroke-width="0.12">4</text>
<rect x="122.30" y="440.70" width="11.90" height="16.70" fill="#2d4f8e" stroke="#223f74" stroke-width="0.6"/>
<rect x="142.00" y="413.40" width="11.90" height="44.00" fill="#a80032" stroke="#8c0028" stroke-width="0.6"/>
<line x1="128.25" y1="437.50" x2="128.25" y2="443.50" stroke="#1a1a1a" stroke-width="1.1"/>
<line x1="125.50" y1="437.50" x2="131.00" y2="437.50" stroke="#1a1a1a" stroke-width="1.1"/>
<line x1="125.50" y1="443.50" x2="131.00" y2="443.50" stroke="#1a1a1a" stroke-width="1.1"/>
<line x1="147.95" y1="405.70" x2="147.95" y2="419.60" stroke="#1a1a1a" stroke-width="1.1"/>
<line x1="145.20" y1="405.70" x2="150.70" y2="405.70" stroke="#1a1a1a" stroke-width="1.1"/>
<line x1="145.20" y1="419.60" x2="150.70" y2="419.60" stroke="#1a1a1a" stroke-width="1.1"/>
<line x1="114.60" y1="457.40" x2="160.80" y2="457.40" stroke="#3a3a3a" stroke-width="1.5"/>
<line x1="128.25" y1="457.40" x2="128.25" y2="460.20" stroke="#3a3a3a" stroke-width="1.1"/>
<line x1="147.95" y1="457.40" x2="147.95" y2="460.20" stroke="#3a3a3a" stroke-width="1.1"/>
<line x1="128.50" y1="396.50" x2="148.10" y2="396.50" stroke="#333333" stroke-width="1.0"/>
<text transform="translate(131.46 396.70)" font-size="8.8" fill="#1a1a1a" font-weight="bold">****</text>
<text transform="translate(132.62 466.83) rotate(-45) scale(0.810 1.000)" font-size="10.0" text-anchor="end" fill="#262626" stroke="#262626" stroke-width="0.12">Ctrl</text>
<text transform="translate(152.21 466.94) rotate(-45) scale(0.810 1.000)" font-size="10.0" text-anchor="end" fill="#262626" stroke="#262626" stroke-width="0.12">CRBN KO</text>
<text transform="translate(127.00 380.10) scale(1.011 1.000)" font-size="10.0" fill="#111" font-style="italic" stroke="#111" stroke-width="0.12">MYC</text>
<line x1="188.60" y1="386.10" x2="188.60" y2="458.10" stroke="#3a3a3a" stroke-width="1.5"/>
<line x1="185.60" y1="457.40" x2="188.60" y2="457.40" stroke="#3a3a3a" stroke-width="1.1"/>
<text transform="translate(170.98 460.60) scale(0.865 1.000)" font-size="10.0" fill="#262626" stroke="#262626" stroke-width="0.12">0.0</text>
<line x1="185.60" y1="434.60" x2="188.60" y2="434.60" stroke="#3a3a3a" stroke-width="1.1"/>
<text transform="translate(171.02 437.80) scale(0.865 1.000)" font-size="10.0" fill="#262626" stroke="#262626" stroke-width="0.12">0.5</text>
<line x1="185.60" y1="411.80" x2="188.60" y2="411.80" stroke="#3a3a3a" stroke-width="1.1"/>
<text transform="translate(170.98 415.00) scale(0.865 1.000)" font-size="10.0" fill="#262626" stroke="#262626" stroke-width="0.12">1.0</text>
<line x1="185.60" y1="389.00" x2="188.60" y2="389.00" stroke="#3a3a3a" stroke-width="1.1"/>
<text transform="translate(171.02 392.20) scale(0.865 1.000)" font-size="10.0" fill="#262626" stroke="#262626" stroke-width="0.12">1.5</text>
<rect x="195.90" y="412.00" width="11.90" height="45.40" fill="#2d4f8e" stroke="#223f74" stroke-width="0.6"/>
<rect x="215.50" y="402.20" width="11.90" height="55.20" fill="#a80032" stroke="#8c0028" stroke-width="0.6"/>
<line x1="201.85" y1="408.10" x2="201.85" y2="415.30" stroke="#1a1a1a" stroke-width="1.1"/>
<line x1="199.10" y1="408.10" x2="204.60" y2="408.10" stroke="#1a1a1a" stroke-width="1.1"/>
<line x1="199.10" y1="415.30" x2="204.60" y2="415.30" stroke="#1a1a1a" stroke-width="1.1"/>
<line x1="221.45" y1="398.00" x2="221.45" y2="405.70" stroke="#1a1a1a" stroke-width="1.1"/>
<line x1="218.70" y1="398.00" x2="224.20" y2="398.00" stroke="#1a1a1a" stroke-width="1.1"/>
<line x1="218.70" y1="405.70" x2="224.20" y2="405.70" stroke="#1a1a1a" stroke-width="1.1"/>
<line x1="187.90" y1="457.40" x2="234.40" y2="457.40" stroke="#3a3a3a" stroke-width="1.5"/>
<line x1="201.85" y1="457.40" x2="201.85" y2="460.20" stroke="#3a3a3a" stroke-width="1.1"/>
<line x1="221.45" y1="457.40" x2="221.45" y2="460.20" stroke="#3a3a3a" stroke-width="1.1"/>
<line x1="203.30" y1="392.50" x2="223.60" y2="392.50" stroke="#333333" stroke-width="1.0"/>
<text transform="translate(210.02 393.20)" font-size="8.8" fill="#1a1a1a" font-weight="bold">**</text>
<text transform="translate(206.22 466.83) rotate(-45) scale(0.810 1.000)" font-size="10.0" text-anchor="end" fill="#262626" stroke="#262626" stroke-width="0.12">Ctrl</text>
<text transform="translate(225.71 466.94) rotate(-45) scale(0.810 1.000)" font-size="10.0" text-anchor="end" fill="#262626" stroke="#262626" stroke-width="0.12">CRBN KO</text>
<text transform="translate(200.00 380.10) scale(1.007 1.000)" font-size="10.0" fill="#111" font-style="italic" stroke="#111" stroke-width="0.12">IFNG</text>
<text transform="translate(24.50 457.86) rotate(-90) scale(0.837 1.000)" font-size="9.8" fill="#262626" stroke="#262626" stroke-width="0.12">Relative expression</text>
<path d="M304.00,41.30 C304.17,41.30 304.67,41.30 305.00,41.29 C305.33,41.29 305.67,41.28 306.00,41.27 C306.33,41.26 306.67,41.25 307.00,41.24 C307.33,41.22 307.67,41.21 308.00,41.19 C308.33,41.18 308.67,41.16 309.00,41.15 C309.33,41.14 309.67,41.12 310.00,41.11 C310.33,41.09 310.67,41.08 311.00,41.06 C311.33,41.05 311.67,41.04 312.00,41.03 C312.33,41.02 312.67,41.01 313.00,41.01 C313.33,41.00 313.64,41.05 314.00,41.00 C314.36,40.95 314.78,40.84 315.17,40.69 C315.56,40.54 315.94,40.26 316.33,40.11 C316.72,39.96 317.10,40.14 317.50,39.80 C317.90,39.46 318.33,38.63 318.75,38.05 C319.17,37.47 319.62,36.73 320.00,36.30 C320.38,35.87 320.67,36.17 321.00,35.47 C321.33,34.78 321.67,32.82 322.00,32.13 C322.33,31.43 322.62,31.76 323.00,31.30 C323.38,30.84 323.83,30.11 324.25,29.36 C324.67,28.61 325.12,27.58 325.50,26.80 C325.88,26.02 326.17,25.21 326.50,24.66 C326.83,24.11 327.17,23.56 327.50,23.50 C327.83,23.44 328.17,24.22 328.50,24.30 C328.83,24.38 329.17,23.82 329.50,24.00 C329.83,24.18 330.08,24.52 330.50,25.40 C330.92,26.28 331.50,27.82 332.00,29.30 C332.50,30.78 333.00,32.72 333.50,34.30 C334.00,35.88 334.50,37.80 335.00,38.80 C335.50,39.80 336.06,40.03 336.50,40.30 C336.94,40.57 337.28,40.37 337.67,40.43 C338.06,40.49 338.44,40.61 338.83,40.67 C339.22,40.73 339.64,40.78 340.00,40.80 C340.36,40.82 340.67,40.80 341.00,40.81 C341.33,40.81 341.67,40.82 342.00,40.83 C342.33,40.84 342.67,40.85 343.00,40.86 C343.33,40.88 343.67,40.89 344.00,40.91 C344.33,40.92 344.67,40.94 345.00,40.95 C345.33,40.96 345.67,40.98 346.00,40.99 C346.33,41.01 346.67,41.02 347.00,41.04 C347.33,41.05 347.67,41.06 348.00,41.07 C348.33,41.08 348.67,41.09 349.00,41.09 C349.33,41.10 349.67,41.10 350.00,41.10 C350.33,41.10 350.67,41.10 351.00,41.10 C351.33,41.11 351.67,41.11 352.00,41.11 C352.33,41.12 352.67,41.12 353.00,41.13 C353.33,41.13 353.67,41.14 354.00,41.15 C354.33,41.15 354.67,41.16 355.00,41.17 C355.33,41.17 355.67,41.18 356.00,41.19 C356.33,41.20 356.67,41.20 357.00,41.21 C357.33,41.22 357.67,41.23 358.00,41.23 C358.33,41.24 358.67,41.25 359.00,41.25 C359.33,41.26 359.67,41.27 360.00,41.27 C360.33,41.28 360.67,41.28 361.00,41.29 C361.33,41.29 361.67,41.29 362.00,41.30 C362.33,41.30 362.83,41.30 363.00,41.30 L363.10,41.30 L304.20,41.30 Z" fill="#a283b3" stroke="#6e3f86" stroke-width="1.0" stroke-linejoin="round"/>
<path d="M304.00,63.00 C304.17,63.00 304.67,63.00 305.00,62.99 C305.33,62.99 305.67,62.98 306.00,62.98 C306.33,62.97 306.67,62.96 307.00,62.95 C307.33,62.94 307.67,62.93 308.00,62.92 C308.33,62.91 308.67,62.90 309.00,62.89 C309.33,62.88 309.67,62.86 310.00,62.85 C310.33,62.84 310.67,62.82 311.00,62.81 C311.33,62.80 311.67,62.79 312.00,62.78 C312.33,62.77 312.67,62.76 313.00,62.75 C313.33,62.74 313.67,62.73 314.00,62.72 C314.33,62.72 314.67,62.71 315.00,62.71 C315.33,62.70 315.67,62.75 316.00,62.70 C316.33,62.65 316.67,62.58 317.00,62.43 C317.33,62.29 317.67,62.04 318.00,61.85 C318.33,61.66 318.67,61.41 319.00,61.27 C319.33,61.12 319.67,61.17 320.00,61.00 C320.33,60.83 320.67,60.64 321.00,60.22 C321.33,59.79 321.67,58.97 322.00,58.45 C322.33,57.93 322.67,57.50 323.00,57.09 C323.33,56.68 323.67,56.26 324.00,56.00 C324.33,55.74 324.67,55.88 325.00,55.54 C325.33,55.20 325.67,54.53 326.00,53.96 C326.33,53.39 326.67,52.53 327.00,52.11 C327.33,51.70 327.67,51.82 328.00,51.50 C328.33,51.18 328.67,50.66 329.00,50.22 C329.33,49.79 329.67,49.25 330.00,48.88 C330.33,48.51 330.62,48.40 331.00,48.00 C331.38,47.60 331.83,46.88 332.25,46.46 C332.67,46.04 333.12,45.83 333.50,45.50 C333.88,45.17 334.17,44.58 334.50,44.50 C334.83,44.42 335.08,44.58 335.50,45.00 C335.92,45.42 336.58,46.51 337.00,47.00 C337.42,47.49 337.67,47.58 338.00,47.96 C338.33,48.35 338.67,48.96 339.00,49.30 C339.33,49.64 339.67,49.75 340.00,50.00 C340.33,50.25 340.67,50.36 341.00,50.80 C341.33,51.23 341.67,52.08 342.00,52.61 C342.33,53.15 342.67,53.54 343.00,54.00 C343.33,54.46 343.67,54.85 344.00,55.38 C344.33,55.90 344.67,56.73 345.00,57.16 C345.33,57.60 345.62,57.61 346.00,58.00 C346.38,58.39 346.83,59.00 347.25,59.50 C347.67,60.00 348.08,60.63 348.50,61.00 C348.92,61.37 349.33,61.47 349.75,61.70 C350.17,61.93 350.62,62.28 351.00,62.40 C351.38,62.52 351.67,62.42 352.00,62.44 C352.33,62.47 352.67,62.50 353.00,62.54 C353.33,62.58 353.67,62.62 354.00,62.66 C354.33,62.70 354.67,62.73 355.00,62.76 C355.33,62.78 355.67,62.79 356.00,62.80 C356.33,62.81 356.67,62.80 357.00,62.81 C357.33,62.82 357.67,62.83 358.00,62.84 C358.33,62.85 358.67,62.87 359.00,62.88 C359.33,62.89 359.67,62.91 360.00,62.92 C360.33,62.93 360.67,62.95 361.00,62.96 C361.33,62.97 361.67,62.98 362.00,62.99 C362.33,63.00 362.83,63.00 363.00,63.00 L363.10,63.00 L304.20,63.00 Z" fill="#8d9bc5" stroke="#3a5795" stroke-width="1.0" stroke-linejoin="round"/>
<path d="M304.00,84.20 C304.17,84.20 304.67,84.20 305.00,84.20 C305.33,84.19 305.67,84.19 306.00,84.18 C306.33,84.18 306.67,84.17 307.00,84.16 C307.33,84.16 307.67,84.15 308.00,84.14 C308.33,84.13 308.67,84.12 309.00,84.11 C309.33,84.10 309.67,84.09 310.00,84.08 C310.33,84.07 310.67,84.06 311.00,84.05 C311.33,84.04 311.67,84.03 312.00,84.02 C312.33,84.01 312.67,84.00 313.00,83.99 C313.33,83.98 313.67,83.97 314.00,83.96 C314.33,83.95 314.67,83.94 315.00,83.94 C315.33,83.93 315.67,83.92 316.00,83.92 C316.33,83.91 316.67,83.91 317.00,83.90 C317.33,83.90 317.67,83.93 318.00,83.90 C318.33,83.87 318.67,83.81 319.00,83.71 C319.33,83.61 319.67,83.44 320.00,83.30 C320.33,83.16 320.67,82.99 321.00,82.89 C321.33,82.79 321.67,82.82 322.00,82.70 C322.33,82.58 322.67,82.44 323.00,82.15 C323.33,81.86 323.67,81.34 324.00,80.95 C324.33,80.56 324.67,80.08 325.00,79.78 C325.33,79.49 325.67,79.45 326.00,79.20 C326.33,78.95 326.67,78.65 327.00,78.29 C327.33,77.94 327.67,77.50 328.00,77.06 C328.33,76.63 328.67,76.10 329.00,75.70 C329.33,75.31 329.67,75.03 330.00,74.70 C330.33,74.37 330.67,74.20 331.00,73.74 C331.33,73.27 331.67,72.32 332.00,71.90 C332.33,71.48 332.62,71.60 333.00,71.20 C333.38,70.80 333.83,70.09 334.25,69.51 C334.67,68.93 335.04,68.25 335.50,67.70 C335.96,67.15 336.50,66.38 337.00,66.20 C337.50,66.02 338.00,66.10 338.50,66.60 C339.00,67.10 339.58,68.48 340.00,69.20 C340.42,69.92 340.67,70.41 341.00,70.91 C341.33,71.41 341.67,71.62 342.00,72.20 C342.33,72.78 342.67,73.71 343.00,74.37 C343.33,75.04 343.67,75.52 344.00,76.20 C344.33,76.88 344.67,77.78 345.00,78.44 C345.33,79.11 345.62,79.70 346.00,80.20 C346.38,80.70 346.83,81.03 347.25,81.45 C347.67,81.87 348.10,82.44 348.50,82.70 C348.90,82.96 349.28,82.85 349.67,82.99 C350.06,83.12 350.44,83.38 350.83,83.51 C351.22,83.65 351.64,83.75 352.00,83.80 C352.36,83.85 352.67,83.80 353.00,83.81 C353.33,83.82 353.67,83.82 354.00,83.83 C354.33,83.85 354.67,83.86 355.00,83.87 C355.33,83.89 355.67,83.90 356.00,83.92 C356.33,83.94 356.67,83.95 357.00,83.97 C357.33,83.99 357.67,84.01 358.00,84.03 C358.33,84.05 358.67,84.06 359.00,84.08 C359.33,84.10 359.67,84.11 360.00,84.13 C360.33,84.14 360.67,84.15 361.00,84.17 C361.33,84.18 361.67,84.18 362.00,84.19 C362.33,84.20 362.83,84.20 363.00,84.20 L363.10,84.20 L304.20,84.20 Z" fill="#b4d1f0" stroke="#68a6de" stroke-width="1.0" stroke-linejoin="round"/>
<path d="M304.00,105.90 C304.17,105.90 304.67,105.90 305.00,105.89 C305.33,105.89 305.67,105.88 306.00,105.87 C306.33,105.86 306.67,105.85 307.00,105.84 C307.33,105.83 307.67,105.81 308.00,105.80 C308.33,105.78 308.67,105.77 309.00,105.75 C309.33,105.73 309.67,105.72 310.00,105.70 C310.33,105.68 310.67,105.67 311.00,105.65 C311.33,105.63 311.67,105.62 312.00,105.60 C312.33,105.59 312.67,105.57 313.00,105.56 C313.33,105.55 313.67,105.54 314.00,105.53 C314.33,105.52 314.67,105.51 315.00,105.51 C315.33,105.50 315.67,105.52 316.00,105.50 C316.33,105.48 316.67,105.45 317.00,105.39 C317.33,105.32 317.67,105.21 318.00,105.11 C318.33,105.01 318.67,104.89 319.00,104.79 C319.33,104.69 319.67,104.58 320.00,104.51 C320.33,104.45 320.67,104.47 321.00,104.40 C321.33,104.33 321.67,104.25 322.00,104.09 C322.33,103.92 322.67,103.63 323.00,103.40 C323.33,103.17 323.67,102.88 324.00,102.71 C324.33,102.55 324.67,102.53 325.00,102.40 C325.33,102.27 325.67,102.20 326.00,101.93 C326.33,101.67 326.67,101.19 327.00,100.81 C327.33,100.43 327.67,99.89 328.00,99.65 C328.33,99.42 328.67,99.63 329.00,99.40 C329.33,99.17 329.67,98.59 330.00,98.28 C330.33,97.98 330.67,97.81 331.00,97.58 C331.33,97.35 331.67,97.19 332.00,96.90 C332.33,96.61 332.67,96.20 333.00,95.87 C333.33,95.53 333.67,95.41 334.00,94.90 C334.33,94.39 334.67,93.40 335.00,92.82 C335.33,92.24 335.67,91.76 336.00,91.40 C336.33,91.04 336.67,91.06 337.00,90.68 C337.33,90.29 337.58,89.43 338.00,89.10 C338.42,88.77 339.00,88.65 339.50,88.70 C340.00,88.75 340.58,89.04 341.00,89.40 C341.42,89.76 341.67,90.47 342.00,90.89 C342.33,91.30 342.62,91.35 343.00,91.90 C343.38,92.45 343.83,93.55 344.25,94.21 C344.67,94.88 345.08,95.26 345.50,95.90 C345.92,96.54 346.33,97.38 346.75,98.05 C347.17,98.71 347.62,99.44 348.00,99.90 C348.38,100.36 348.67,100.45 349.00,100.82 C349.33,101.19 349.67,101.78 350.00,102.12 C350.33,102.47 350.67,102.71 351.00,102.90 C351.33,103.09 351.67,103.10 352.00,103.29 C352.33,103.47 352.67,103.83 353.00,104.01 C353.33,104.20 353.67,104.32 354.00,104.40 C354.33,104.48 354.67,104.45 355.00,104.51 C355.33,104.57 355.67,104.67 356.00,104.75 C356.33,104.83 356.67,104.93 357.00,104.99 C357.33,105.05 357.67,105.07 358.00,105.10 C358.33,105.13 358.67,105.12 359.00,105.15 C359.33,105.18 359.67,105.23 360.00,105.28 C360.33,105.32 360.67,105.38 361.00,105.42 C361.33,105.47 361.67,105.52 362.00,105.55 C362.33,105.58 362.83,105.59 363.00,105.60 L363.10,105.90 L304.20,105.90 Z" fill="#f0c68b" stroke="#e2952c" stroke-width="1.0" stroke-linejoin="round"/>
<path d="M304.00,127.60 C304.17,127.60 304.67,127.60 305.00,127.60 C305.33,127.59 305.67,127.59 306.00,127.58 C306.33,127.58 306.67,127.57 307.00,127.56 C307.33,127.56 307.67,127.55 308.00,127.54 C308.33,127.53 308.67,127.52 309.00,127.51 C309.33,127.50 309.67,127.49 310.00,127.48 C310.33,127.47 310.67,127.46 311.00,127.45 C311.33,127.44 311.67,127.43 312.00,127.42 C312.33,127.41 312.67,127.40 313.00,127.39 C313.33,127.38 313.67,127.37 314.00,127.36 C314.33,127.35 314.67,127.34 315.00,127.34 C315.33,127.33 315.67,127.32 316.00,127.32 C316.33,127.31 316.67,127.31 317.00,127.30 C317.33,127.30 317.67,127.33 318.00,127.30 C318.33,127.27 318.67,127.21 319.00,127.11 C319.33,127.01 319.67,126.84 320.00,126.70 C320.33,126.56 320.67,126.39 321.00,126.29 C321.33,126.19 321.67,126.20 322.00,126.10 C322.33,126.00 322.67,125.92 323.00,125.71 C323.33,125.50 323.67,125.14 324.00,124.85 C324.33,124.56 324.67,124.20 325.00,123.99 C325.33,123.78 325.67,123.81 326.00,123.60 C326.33,123.39 326.67,122.98 327.00,122.72 C327.33,122.46 327.67,122.32 328.00,122.03 C328.33,121.74 328.67,121.30 329.00,120.98 C329.33,120.65 329.67,120.40 330.00,120.10 C330.33,119.80 330.67,119.50 331.00,119.18 C331.33,118.87 331.67,118.58 332.00,118.22 C332.33,117.85 332.67,117.27 333.00,117.00 C333.33,116.73 333.67,116.79 334.00,116.60 C334.33,116.41 334.67,116.30 335.00,115.85 C335.33,115.41 335.67,114.29 336.00,113.91 C336.33,113.54 336.62,113.85 337.00,113.60 C337.38,113.35 337.83,112.77 338.25,112.44 C338.67,112.10 339.07,111.84 339.50,111.60 C339.93,111.36 340.38,110.92 340.80,111.00 C341.22,111.08 341.63,111.72 342.00,112.10 C342.37,112.48 342.67,112.85 343.00,113.27 C343.33,113.68 343.62,114.11 344.00,114.60 C344.38,115.09 344.83,115.57 345.25,116.23 C345.67,116.90 346.08,117.91 346.50,118.60 C346.92,119.29 347.33,119.69 347.75,120.35 C348.17,121.02 348.62,122.16 349.00,122.60 C349.38,123.04 349.67,122.73 350.00,122.98 C350.33,123.23 350.67,123.88 351.00,124.10 C351.33,124.32 351.67,124.20 352.00,124.28 C352.33,124.37 352.67,124.53 353.00,124.62 C353.33,124.70 353.67,124.74 354.00,124.80 C354.33,124.86 354.67,124.89 355.00,125.00 C355.33,125.11 355.67,125.30 356.00,125.45 C356.33,125.60 356.67,125.79 357.00,125.90 C357.33,126.01 357.67,126.04 358.00,126.10 C358.33,126.16 358.67,126.17 359.00,126.26 C359.33,126.34 359.67,126.49 360.00,126.60 C360.33,126.71 360.67,126.86 361.00,126.94 C361.33,127.03 361.67,127.06 362.00,127.10 C362.33,127.14 362.83,127.18 363.00,127.20 L363.10,127.60 L304.20,127.60 Z" fill="#bad9a3" stroke="#6aac45" stroke-width="1.0" stroke-linejoin="round"/>
<path d="M304.00,149.00 C304.17,149.00 304.67,149.00 305.00,148.99 C305.33,148.99 305.67,148.99 306.00,148.98 C306.33,148.97 306.67,148.97 307.00,148.96 C307.33,148.95 307.67,148.94 308.00,148.93 C308.33,148.92 308.67,148.91 309.00,148.90 C309.33,148.89 309.67,148.88 310.00,148.87 C310.33,148.86 310.67,148.85 311.00,148.84 C311.33,148.83 311.67,148.83 312.00,148.82 C312.33,148.81 312.67,148.81 313.00,148.81 C313.33,148.80 313.67,148.83 314.00,148.80 C314.33,148.77 314.67,148.71 315.00,148.60 C315.33,148.49 315.67,148.30 316.00,148.15 C316.33,148.00 316.67,147.81 317.00,147.70 C317.33,147.59 317.67,147.69 318.00,147.50 C318.33,147.31 318.67,146.96 319.00,146.59 C319.33,146.23 319.67,145.73 320.00,145.30 C320.33,144.87 320.67,144.40 321.00,144.00 C321.33,143.60 321.67,143.54 322.00,142.92 C322.33,142.31 322.67,140.95 323.00,140.30 C323.33,139.65 323.62,139.69 324.00,139.00 C324.38,138.31 324.83,137.00 325.25,136.17 C325.67,135.34 326.12,134.60 326.50,134.00 C326.88,133.40 327.17,133.00 327.50,132.55 C327.83,132.10 328.08,131.22 328.50,131.30 C328.92,131.38 329.58,132.42 330.00,133.00 C330.42,133.58 330.67,134.09 331.00,134.76 C331.33,135.43 331.67,136.41 332.00,137.00 C332.33,137.59 332.67,137.79 333.00,138.29 C333.33,138.79 333.67,139.58 334.00,140.00 C334.33,140.42 334.67,140.38 335.00,140.79 C335.33,141.21 335.67,142.03 336.00,142.50 C336.33,142.97 336.67,143.28 337.00,143.61 C337.33,143.94 337.67,144.33 338.00,144.50 C338.33,144.67 338.67,144.51 339.00,144.62 C339.33,144.74 339.67,145.05 340.00,145.20 C340.33,145.35 340.67,145.40 341.00,145.50 C341.33,145.60 341.67,145.65 342.00,145.80 C342.33,145.95 342.67,146.20 343.00,146.40 C343.33,146.60 343.67,146.86 344.00,147.00 C344.33,147.14 344.67,147.14 345.00,147.26 C345.33,147.38 345.67,147.62 346.00,147.74 C346.33,147.86 346.67,147.93 347.00,148.00 C347.33,148.07 347.67,148.08 348.00,148.16 C348.33,148.23 348.67,148.37 349.00,148.44 C349.33,148.52 349.67,148.57 350.00,148.60 C350.33,148.63 350.67,148.60 351.00,148.61 C351.33,148.61 351.67,148.62 352.00,148.63 C352.33,148.63 352.67,148.64 353.00,148.65 C353.33,148.66 353.67,148.68 354.00,148.69 C354.33,148.70 354.67,148.72 355.00,148.73 C355.33,148.75 355.67,148.76 356.00,148.78 C356.33,148.79 356.67,148.81 357.00,148.82 C357.33,148.84 357.67,148.85 358.00,148.87 C358.33,148.88 358.67,148.90 359.00,148.91 C359.33,148.92 359.67,148.94 360.00,148.95 C360.33,148.96 360.67,148.97 361.00,148.97 C361.33,148.98 361.67,148.99 362.00,148.99 C362.33,149.00 362.83,149.00 363.00,149.00 L363.10,149.00 L304.20,149.00 Z" fill="#cb7a78" stroke="#b0183c" stroke-width="1.0" stroke-linejoin="round"/>
<line x1="334.5" y1="17.8" x2="334.5" y2="149.0" stroke="#111" stroke-width="1.0" stroke-dasharray="1.3,1.1"/>
<rect x="303.8" y="17.8" width="59.69999999999999" height="131.2" fill="none" stroke="#3a3a3a" stroke-width="1.2"/>
<line x1="303.2" y1="149.15" x2="364.1" y2="149.15" stroke="#262626" stroke-width="1.3"/>
<text transform="translate(336.19 26.10) scale(0.988 1.000)" font-size="8.2" fill="#1e1e1e" stroke="#1e1e1e" stroke-width="0.12">Unstim</text>
<text transform="translate(304.96 50.20) scale(0.943 1.000)" font-size="8.2" fill="#1e1e1e" stroke="#1e1e1e" stroke-width="0.12">Veh</text>
<text transform="translate(305.06 72.70) scale(0.971 1.000)" font-size="8.2" fill="#1e1e1e" stroke="#1e1e1e" stroke-width="0.12">Len</text>
<text transform="translate(305.06 93.60) scale(0.974 1.000)" font-size="8.2" fill="#1e1e1e" stroke="#1e1e1e" stroke-width="0.12">Pom</text>
<text transform="translate(305.70 116.40) scale(0.865 1.000)" font-size="8.2" fill="#1e1e1e" stroke="#1e1e1e" stroke-width="0.12">Ava</text>
<text transform="translate(305.59 135.70) scale(0.914 1.000)" font-size="8.2" fill="#1e1e1e" stroke="#1e1e1e" stroke-width="0.12">JQ1</text>
<path d="M49.00,215.30 C49.17,215.30 49.67,215.30 50.00,215.30 C50.33,215.30 50.67,215.30 51.00,215.29 C51.33,215.29 51.67,215.29 52.00,215.29 C52.33,215.28 52.67,215.28 53.00,215.28 C53.33,215.27 53.67,215.27 54.00,215.27 C54.33,215.26 54.67,215.26 55.00,215.26 C55.33,215.25 55.67,215.25 56.00,215.24 C56.33,215.24 56.67,215.24 57.00,215.23 C57.33,215.23 57.67,215.23 58.00,215.22 C58.33,215.22 58.67,215.22 59.00,215.21 C59.33,215.21 59.67,215.21 60.00,215.21 C60.33,215.20 60.67,215.20 61.00,215.20 C61.33,215.20 61.62,215.24 62.00,215.20 C62.38,215.16 62.83,215.03 63.25,214.95 C63.67,214.87 64.14,214.94 64.50,214.70 C64.86,214.46 65.02,214.80 65.40,213.50 C65.78,212.20 66.40,208.57 66.80,206.90 C67.20,205.23 67.47,204.59 67.80,203.45 C68.13,202.32 68.46,200.77 68.80,200.10 C69.14,199.43 69.50,199.77 69.85,199.42 C70.20,199.07 70.61,198.35 70.90,198.00 C71.19,197.65 71.32,196.75 71.60,197.30 C71.88,197.85 72.27,200.22 72.60,201.30 C72.93,202.38 73.20,203.05 73.60,203.80 C74.00,204.55 74.55,204.88 75.00,205.80 C75.45,206.72 75.88,208.22 76.30,209.30 C76.72,210.38 77.05,211.50 77.50,212.30 C77.95,213.10 78.58,213.73 79.00,214.10 C79.42,214.47 79.67,214.37 80.00,214.50 C80.33,214.63 80.67,214.83 81.00,214.90 C81.33,214.97 81.67,214.92 82.00,214.95 C82.33,214.97 82.67,215.02 83.00,215.05 C83.33,215.08 83.67,215.13 84.00,215.15 C84.33,215.18 84.67,215.19 85.00,215.20 C85.33,215.21 85.67,215.20 86.00,215.20 C86.33,215.20 86.67,215.20 87.00,215.20 C87.33,215.20 87.67,215.20 88.00,215.20 C88.33,215.20 88.67,215.21 89.00,215.21 C89.33,215.21 89.67,215.21 90.00,215.21 C90.33,215.21 90.67,215.21 91.00,215.21 C91.33,215.22 91.67,215.22 92.00,215.22 C92.33,215.22 92.67,215.22 93.00,215.22 C93.33,215.23 93.67,215.23 94.00,215.23 C94.33,215.23 94.67,215.23 95.00,215.24 C95.33,215.24 95.67,215.24 96.00,215.24 C96.33,215.24 96.67,215.25 97.00,215.25 C97.33,215.25 97.67,215.25 98.00,215.25 C98.33,215.25 98.67,215.26 99.00,215.26 C99.33,215.26 99.67,215.26 100.00,215.26 C100.33,215.27 100.67,215.27 101.00,215.27 C101.33,215.27 101.67,215.27 102.00,215.28 C102.33,215.28 102.67,215.28 103.00,215.28 C103.33,215.28 103.67,215.28 104.00,215.29 C104.33,215.29 104.67,215.29 105.00,215.29 C105.33,215.29 105.67,215.29 106.00,215.29 C106.33,215.29 106.67,215.30 107.00,215.30 C107.33,215.30 107.67,215.30 108.00,215.30 C108.33,215.30 108.67,215.30 109.00,215.30 C109.33,215.30 109.83,215.30 110.00,215.30 L110.10,215.30 L49.20,215.30 Z" fill="#a283b3" stroke="#6e3f86" stroke-width="1.0" stroke-linejoin="round"/>
<path d="M49.00,236.90 C49.17,236.90 49.67,236.90 50.00,236.90 C50.33,236.90 50.67,236.90 51.00,236.90 C51.33,236.90 51.67,236.90 52.00,236.90 C52.33,236.89 52.67,236.89 53.00,236.89 C53.33,236.89 53.67,236.89 54.00,236.89 C54.33,236.89 54.67,236.88 55.00,236.88 C55.33,236.88 55.67,236.88 56.00,236.88 C56.33,236.88 56.67,236.87 57.00,236.87 C57.33,236.87 57.67,236.87 58.00,236.87 C58.33,236.86 58.67,236.86 59.00,236.86 C59.33,236.86 59.67,236.86 60.00,236.85 C60.33,236.85 60.67,236.85 61.00,236.85 C61.33,236.84 61.67,236.84 62.00,236.84 C62.33,236.84 62.67,236.84 63.00,236.83 C63.33,236.83 63.67,236.83 64.00,236.83 C64.33,236.83 64.67,236.82 65.00,236.82 C65.33,236.82 65.67,236.82 66.00,236.82 C66.33,236.82 66.67,236.81 67.00,236.81 C67.33,236.81 67.67,236.81 68.00,236.81 C68.33,236.81 68.67,236.81 69.00,236.80 C69.33,236.80 69.67,236.80 70.00,236.80 C70.33,236.80 70.67,236.80 71.00,236.80 C71.33,236.80 71.65,236.81 72.00,236.80 C72.35,236.79 72.72,236.77 73.08,236.74 C73.43,236.70 73.79,236.65 74.15,236.60 C74.51,236.55 74.87,236.50 75.22,236.46 C75.58,236.43 75.94,236.58 76.30,236.40 C76.66,236.22 77.03,235.73 77.40,235.40 C77.77,235.07 78.00,235.02 78.50,234.40 C79.00,233.78 79.86,232.37 80.40,231.70 C80.94,231.03 81.30,230.98 81.75,230.41 C82.20,229.84 82.65,229.06 83.10,228.30 C83.55,227.54 84.00,226.52 84.45,225.85 C84.90,225.18 85.34,225.24 85.80,224.30 C86.26,223.36 86.85,221.02 87.20,220.20 C87.55,219.38 87.60,219.12 87.90,219.40 C88.20,219.68 88.57,221.35 89.00,221.90 C89.43,222.45 90.02,222.53 90.50,222.70 C90.98,222.87 91.43,222.53 91.90,222.90 C92.37,223.27 92.90,224.06 93.30,224.90 C93.70,225.74 93.97,227.05 94.30,227.95 C94.63,228.85 94.96,229.61 95.30,230.30 C95.64,230.99 96.00,231.43 96.35,232.11 C96.70,232.79 97.06,233.84 97.40,234.40 C97.74,234.96 98.07,235.10 98.40,235.45 C98.73,235.80 99.02,236.30 99.40,236.50 C99.78,236.70 100.27,236.60 100.70,236.65 C101.13,236.70 101.62,236.77 102.00,236.80 C102.38,236.83 102.67,236.80 103.00,236.80 C103.33,236.81 103.67,236.81 104.00,236.82 C104.33,236.82 104.67,236.83 105.00,236.83 C105.33,236.84 105.67,236.84 106.00,236.85 C106.33,236.86 106.67,236.86 107.00,236.87 C107.33,236.87 107.67,236.88 108.00,236.88 C108.33,236.89 108.67,236.89 109.00,236.90 C109.33,236.90 109.83,236.90 110.00,236.90 L110.10,236.90 L49.20,236.90 Z" fill="#8d9bc5" stroke="#3a5795" stroke-width="1.0" stroke-linejoin="round"/>
<path d="M49.00,258.30 C49.17,258.30 49.67,258.30 50.00,258.30 C50.33,258.30 50.67,258.30 51.00,258.29 C51.33,258.29 51.67,258.29 52.00,258.29 C52.33,258.29 52.67,258.28 53.00,258.28 C53.33,258.28 53.67,258.27 54.00,258.27 C54.33,258.27 54.67,258.26 55.00,258.26 C55.33,258.26 55.67,258.25 56.00,258.25 C56.33,258.24 56.67,258.24 57.00,258.24 C57.33,258.23 57.67,258.23 58.00,258.22 C58.33,258.22 58.67,258.21 59.00,258.21 C59.33,258.20 59.67,258.20 60.00,258.19 C60.33,258.19 60.67,258.18 61.00,258.18 C61.33,258.17 61.67,258.17 62.00,258.16 C62.33,258.16 62.67,258.16 63.00,258.15 C63.33,258.15 63.67,258.14 64.00,258.14 C64.33,258.14 64.67,258.13 65.00,258.13 C65.33,258.13 65.67,258.12 66.00,258.12 C66.33,258.12 66.67,258.11 67.00,258.11 C67.33,258.11 67.67,258.11 68.00,258.11 C68.33,258.10 68.67,258.10 69.00,258.10 C69.33,258.10 69.65,258.12 70.00,258.10 C70.35,258.08 70.75,258.05 71.12,257.98 C71.49,257.90 71.87,257.79 72.24,257.68 C72.61,257.57 72.99,257.43 73.36,257.32 C73.73,257.21 74.11,257.10 74.48,257.02 C74.85,256.95 75.22,257.07 75.60,256.90 C75.98,256.73 76.36,256.44 76.73,256.02 C77.11,255.60 77.49,254.80 77.87,254.38 C78.24,253.96 78.59,254.12 79.00,253.50 C79.41,252.88 79.90,251.47 80.35,250.67 C80.80,249.87 81.29,249.09 81.70,248.70 C82.11,248.31 82.46,248.74 82.83,248.33 C83.21,247.92 83.59,246.62 83.97,246.23 C84.34,245.84 84.68,246.27 85.10,246.00 C85.52,245.73 86.03,245.16 86.50,244.61 C86.97,244.06 87.45,243.25 87.90,242.70 C88.35,242.15 88.77,241.67 89.20,241.30 C89.63,240.93 90.12,240.73 90.50,240.50 C90.88,240.27 91.12,239.80 91.50,239.90 C91.88,240.00 92.38,240.75 92.80,241.10 C93.22,241.45 93.63,241.74 94.00,242.00 C94.37,242.26 94.67,242.47 95.00,242.69 C95.33,242.90 95.67,242.81 96.00,243.30 C96.33,243.79 96.67,244.70 97.00,245.60 C97.33,246.50 97.66,247.70 98.00,248.70 C98.34,249.70 98.70,250.68 99.05,251.59 C99.40,252.51 99.76,253.48 100.10,254.20 C100.44,254.92 100.77,255.33 101.10,255.90 C101.43,256.47 101.69,257.28 102.10,257.60 C102.51,257.93 103.07,257.77 103.55,257.85 C104.03,257.93 104.59,258.05 105.00,258.10 C105.41,258.15 105.67,258.11 106.00,258.12 C106.33,258.13 106.67,258.15 107.00,258.17 C107.33,258.19 107.67,258.21 108.00,258.23 C108.33,258.25 108.67,258.27 109.00,258.28 C109.33,258.29 109.83,258.30 110.00,258.30 L110.10,258.30 L49.20,258.30 Z" fill="#b4d1f0" stroke="#68a6de" stroke-width="1.0" stroke-linejoin="round"/>
<path d="M49.00,279.90 C49.17,279.90 49.67,279.90 50.00,279.90 C50.33,279.90 50.67,279.90 51.00,279.89 C51.33,279.89 51.67,279.89 52.00,279.89 C52.33,279.88 52.67,279.88 53.00,279.88 C53.33,279.87 53.67,279.87 54.00,279.87 C54.33,279.86 54.67,279.86 55.00,279.85 C55.33,279.85 55.67,279.84 56.00,279.84 C56.33,279.83 56.67,279.83 57.00,279.82 C57.33,279.82 57.67,279.81 58.00,279.81 C58.33,279.80 58.67,279.80 59.00,279.79 C59.33,279.79 59.67,279.78 60.00,279.78 C60.33,279.77 60.67,279.77 61.00,279.76 C61.33,279.76 61.67,279.75 62.00,279.75 C62.33,279.74 62.67,279.74 63.00,279.73 C63.33,279.73 63.67,279.73 64.00,279.72 C64.33,279.72 64.67,279.72 65.00,279.71 C65.33,279.71 65.67,279.71 66.00,279.71 C66.33,279.70 66.67,279.70 67.00,279.70 C67.33,279.70 67.67,279.72 68.00,279.70 C68.33,279.68 68.67,279.66 69.00,279.61 C69.33,279.56 69.67,279.47 70.00,279.40 C70.33,279.33 70.67,279.24 71.00,279.19 C71.33,279.14 71.67,279.15 72.00,279.10 C72.33,279.05 72.67,279.01 73.00,278.91 C73.33,278.81 73.67,278.64 74.00,278.50 C74.33,278.36 74.67,278.19 75.00,278.09 C75.33,277.99 75.67,277.99 76.00,277.90 C76.33,277.81 76.67,277.72 77.00,277.52 C77.33,277.32 77.67,277.01 78.00,276.70 C78.33,276.39 78.67,275.89 79.00,275.69 C79.33,275.49 79.67,275.62 80.00,275.50 C80.33,275.38 80.67,275.37 81.00,275.00 C81.33,274.62 81.67,273.74 82.00,273.24 C82.33,272.74 82.63,272.64 83.00,272.00 C83.37,271.36 83.80,270.23 84.20,269.39 C84.60,268.56 85.03,267.58 85.40,267.00 C85.78,266.42 86.10,266.34 86.45,265.92 C86.80,265.51 87.01,265.07 87.50,264.50 C87.99,263.93 88.90,262.97 89.40,262.50 C89.90,262.03 90.15,261.92 90.50,261.70 C90.85,261.48 91.17,261.08 91.50,261.20 C91.83,261.32 92.17,262.02 92.50,262.40 C92.83,262.78 93.08,263.48 93.50,263.50 C93.92,263.52 94.58,262.28 95.00,262.50 C95.42,262.72 95.67,263.92 96.00,264.84 C96.33,265.75 96.67,267.02 97.00,268.00 C97.33,268.98 97.67,269.71 98.00,270.71 C98.33,271.71 98.67,273.08 99.00,274.00 C99.33,274.92 99.67,275.50 100.00,276.25 C100.33,277.00 100.67,278.04 101.00,278.50 C101.33,278.96 101.67,278.83 102.00,279.00 C102.33,279.17 102.67,279.41 103.00,279.50 C103.33,279.59 103.67,279.51 104.00,279.52 C104.33,279.54 104.67,279.56 105.00,279.58 C105.33,279.60 105.67,279.63 106.00,279.66 C106.33,279.68 106.67,279.72 107.00,279.74 C107.33,279.77 107.67,279.80 108.00,279.82 C108.33,279.84 108.67,279.86 109.00,279.88 C109.33,279.89 109.83,279.90 110.00,279.90 L110.10,279.90 L49.20,279.90 Z" fill="#f0c68b" stroke="#e2952c" stroke-width="1.0" stroke-linejoin="round"/>
<path d="M49.00,301.50 C49.17,301.50 49.67,301.50 50.00,301.50 C50.33,301.50 50.67,301.49 51.00,301.49 C51.33,301.49 51.67,301.48 52.00,301.48 C52.33,301.48 52.67,301.47 53.00,301.47 C53.33,301.46 53.67,301.45 54.00,301.45 C54.33,301.44 54.67,301.44 55.00,301.43 C55.33,301.42 55.67,301.42 56.00,301.41 C56.33,301.40 56.67,301.39 57.00,301.39 C57.33,301.38 57.67,301.37 58.00,301.36 C58.33,301.35 58.67,301.35 59.00,301.34 C59.33,301.33 59.67,301.32 60.00,301.31 C60.33,301.31 60.67,301.30 61.00,301.29 C61.33,301.28 61.67,301.28 62.00,301.27 C62.33,301.26 62.67,301.26 63.00,301.25 C63.33,301.25 63.67,301.24 64.00,301.23 C64.33,301.23 64.67,301.22 65.00,301.22 C65.33,301.22 65.67,301.21 66.00,301.21 C66.33,301.21 66.67,301.20 67.00,301.20 C67.33,301.20 67.67,301.21 68.00,301.20 C68.33,301.19 68.67,301.16 69.00,301.12 C69.33,301.08 69.67,301.01 70.00,300.95 C70.33,300.89 70.67,300.82 71.00,300.78 C71.33,300.74 71.67,300.74 72.00,300.70 C72.33,300.66 72.67,300.63 73.00,300.54 C73.33,300.46 73.67,300.31 74.00,300.20 C74.33,300.09 74.67,299.94 75.00,299.86 C75.33,299.77 75.67,299.76 76.00,299.70 C76.33,299.64 76.67,299.61 77.00,299.51 C77.33,299.41 77.67,299.24 78.00,299.10 C78.33,298.96 78.67,298.79 79.00,298.69 C79.33,298.59 79.67,298.72 80.00,298.50 C80.33,298.28 80.67,297.80 81.00,297.38 C81.33,296.96 81.67,296.48 82.00,296.00 C82.33,295.52 82.67,294.96 83.00,294.51 C83.33,294.07 83.67,293.76 84.00,293.34 C84.33,292.92 84.62,292.52 85.00,292.00 C85.38,291.48 85.83,290.87 86.25,290.20 C86.67,289.54 87.12,288.56 87.50,288.00 C87.88,287.44 88.17,287.25 88.50,286.83 C88.83,286.42 89.08,285.92 89.50,285.50 C89.92,285.08 90.55,284.63 91.00,284.30 C91.45,283.97 91.82,283.52 92.20,283.50 C92.58,283.48 92.87,284.22 93.30,284.20 C93.73,284.18 94.35,283.10 94.80,283.40 C95.25,283.70 95.63,284.90 96.00,286.00 C96.37,287.10 96.67,288.71 97.00,290.00 C97.33,291.29 97.67,292.60 98.00,293.76 C98.33,294.93 98.67,296.19 99.00,297.00 C99.33,297.81 99.67,298.10 100.00,298.65 C100.33,299.20 100.67,299.99 101.00,300.30 C101.33,300.61 101.67,300.42 102.00,300.53 C102.33,300.64 102.67,300.86 103.00,300.97 C103.33,301.08 103.67,301.16 104.00,301.20 C104.33,301.24 104.67,301.21 105.00,301.22 C105.33,301.24 105.67,301.26 106.00,301.28 C106.33,301.30 106.67,301.33 107.00,301.35 C107.33,301.37 107.67,301.40 108.00,301.42 C108.33,301.44 108.67,301.46 109.00,301.48 C109.33,301.49 109.83,301.50 110.00,301.50 L110.10,301.50 L49.20,301.50 Z" fill="#bad9a3" stroke="#6aac45" stroke-width="1.0" stroke-linejoin="round"/>
<path d="M49.00,322.80 C49.17,322.80 49.67,322.80 50.00,322.80 C50.33,322.80 50.67,322.79 51.00,322.79 C51.33,322.79 51.67,322.78 52.00,322.78 C52.33,322.77 52.67,322.77 53.00,322.76 C53.33,322.76 53.67,322.75 54.00,322.75 C54.33,322.74 54.67,322.74 55.00,322.73 C55.33,322.72 55.67,322.72 56.00,322.71 C56.33,322.70 56.67,322.70 57.00,322.69 C57.33,322.68 57.67,322.68 58.00,322.67 C58.33,322.66 58.67,322.66 59.00,322.65 C59.33,322.65 59.67,322.64 60.00,322.64 C60.33,322.63 60.67,322.63 61.00,322.62 C61.33,322.62 61.67,322.61 62.00,322.61 C62.33,322.61 62.67,322.60 63.00,322.60 C63.33,322.60 63.66,322.63 64.00,322.60 C64.34,322.57 64.71,322.49 65.07,322.39 C65.42,322.29 65.78,322.11 66.13,322.01 C66.49,321.91 66.83,322.08 67.20,321.80 C67.57,321.52 67.97,320.80 68.35,320.30 C68.73,319.80 69.14,319.38 69.50,318.80 C69.86,318.22 70.17,317.47 70.50,316.80 C70.83,316.14 71.13,315.49 71.50,314.80 C71.87,314.11 72.30,313.28 72.70,312.69 C73.10,312.11 73.52,311.28 73.90,311.30 C74.28,311.32 74.55,312.63 75.00,312.80 C75.45,312.97 76.10,312.05 76.60,312.30 C77.10,312.55 77.60,313.81 78.00,314.30 C78.40,314.79 78.67,315.04 79.00,315.21 C79.33,315.38 79.67,315.20 80.00,315.30 C80.33,315.40 80.67,315.69 81.00,315.82 C81.33,315.95 81.61,315.98 82.00,316.10 C82.39,316.22 82.90,316.55 83.35,316.55 C83.80,316.55 84.17,315.81 84.70,316.10 C85.23,316.39 85.93,317.58 86.50,318.30 C87.07,319.02 87.59,319.98 88.10,320.40 C88.61,320.83 89.07,320.70 89.55,320.85 C90.03,321.00 90.59,321.19 91.00,321.30 C91.41,321.41 91.67,321.40 92.00,321.48 C92.33,321.57 92.67,321.73 93.00,321.82 C93.33,321.90 93.64,321.95 94.00,322.00 C94.36,322.05 94.78,322.07 95.17,322.13 C95.56,322.19 95.94,322.31 96.33,322.37 C96.72,322.43 97.13,322.48 97.50,322.50 C97.87,322.52 98.19,322.50 98.54,322.51 C98.89,322.51 99.24,322.52 99.58,322.52 C99.93,322.53 100.28,322.54 100.62,322.55 C100.97,322.56 101.32,322.57 101.67,322.58 C102.01,322.59 102.36,322.60 102.71,322.61 C103.06,322.62 103.40,322.64 103.75,322.65 C104.10,322.66 104.44,322.68 104.79,322.69 C105.14,322.70 105.49,322.71 105.83,322.72 C106.18,322.73 106.53,322.74 106.88,322.75 C107.22,322.76 107.57,322.77 107.92,322.78 C108.26,322.78 108.61,322.79 108.96,322.79 C109.31,322.80 109.83,322.80 110.00,322.80 L110.10,322.80 L49.20,322.80 Z" fill="#cb7a78" stroke="#b0183c" stroke-width="1.0" stroke-linejoin="round"/>
<line x1="88.8" y1="191.8" x2="88.8" y2="322.8" stroke="#111" stroke-width="1.0" stroke-dasharray="1.3,1.1"/>
<rect x="48.8" y="191.8" width="61.7" height="131.0" fill="none" stroke="#3a3a3a" stroke-width="1.2"/>
<line x1="48.199999999999996" y1="322.95" x2="111.1" y2="322.95" stroke="#262626" stroke-width="1.3"/>
<text transform="translate(83.20 199.80) scale(0.976 1.000)" font-size="8.2" fill="#1e1e1e" stroke="#1e1e1e" stroke-width="0.12">Unstim</text>
<text transform="translate(49.66 223.30) scale(0.965 1.000)" font-size="8.2" fill="#1e1e1e" stroke="#1e1e1e" stroke-width="0.12">Veh</text>
<text transform="translate(49.46 244.10) scale(0.971 1.000)" font-size="8.2" fill="#1e1e1e" stroke="#1e1e1e" stroke-width="0.12">Len</text>
<text transform="translate(49.44 265.90) scale(1.006 1.000)" font-size="8.2" fill="#1e1e1e" stroke="#1e1e1e" stroke-width="0.12">Pom</text>
<text transform="translate(50.10 287.80) scale(0.887 1.000)" font-size="8.2" fill="#1e1e1e" stroke="#1e1e1e" stroke-width="0.12">Ava</text>
<text transform="translate(49.99 309.00) scale(0.928 1.000)" font-size="8.2" fill="#1e1e1e" stroke="#1e1e1e" stroke-width="0.12">JQ1</text>
<line x1="306.30" y1="149.50" x2="306.30" y2="151.80" stroke="#333" stroke-width="0.8"/>
<line x1="312.70" y1="149.50" x2="312.70" y2="151.80" stroke="#333" stroke-width="0.8"/>
<line x1="314.60" y1="149.50" x2="314.60" y2="151.80" stroke="#333" stroke-width="0.8"/>
<line x1="316.50" y1="149.50" x2="316.50" y2="151.80" stroke="#333" stroke-width="0.8"/>
<line x1="319.00" y1="149.50" x2="319.00" y2="151.80" stroke="#333" stroke-width="0.8"/>
<line x1="321.60" y1="149.50" x2="321.60" y2="151.80" stroke="#333" stroke-width="0.8"/>
<line x1="323.50" y1="149.50" x2="323.50" y2="151.80" stroke="#333" stroke-width="0.8"/>
<line x1="325.40" y1="149.50" x2="325.40" y2="151.80" stroke="#333" stroke-width="0.8"/>
<line x1="327.30" y1="149.50" x2="327.30" y2="151.80" stroke="#333" stroke-width="0.8"/>
<line x1="330.50" y1="149.50" x2="330.50" y2="151.80" stroke="#333" stroke-width="0.8"/>
<line x1="334.30" y1="149.50" x2="334.30" y2="151.80" stroke="#333" stroke-width="0.8"/>
<line x1="338.00" y1="149.50" x2="338.00" y2="151.80" stroke="#333" stroke-width="0.8"/>
<line x1="340.60" y1="149.50" x2="340.60" y2="151.80" stroke="#333" stroke-width="0.8"/>
<line x1="343.10" y1="149.50" x2="343.10" y2="151.80" stroke="#333" stroke-width="0.8"/>
<line x1="345.00" y1="149.50" x2="345.00" y2="151.80" stroke="#333" stroke-width="0.8"/>
<line x1="347.60" y1="149.50" x2="347.60" y2="151.80" stroke="#333" stroke-width="0.8"/>
<line x1="350.80" y1="149.50" x2="350.80" y2="151.80" stroke="#333" stroke-width="0.8"/>
<line x1="353.90" y1="149.50" x2="353.90" y2="151.80" stroke="#333" stroke-width="0.8"/>
<line x1="355.20" y1="149.50" x2="355.20" y2="151.80" stroke="#333" stroke-width="0.8"/>
<line x1="362.80" y1="149.50" x2="362.80" y2="151.80" stroke="#333" stroke-width="0.8"/>
<line x1="52.00" y1="323.10" x2="52.00" y2="325.40" stroke="#333" stroke-width="0.8"/>
<line x1="55.00" y1="323.10" x2="55.00" y2="325.40" stroke="#333" stroke-width="0.8"/>
<line x1="57.50" y1="323.10" x2="57.50" y2="325.40" stroke="#333" stroke-width="0.8"/>
<line x1="60.00" y1="323.10" x2="60.00" y2="325.40" stroke="#333" stroke-width="0.8"/>
<line x1="61.50" y1="323.10" x2="61.50" y2="325.40" stroke="#333" stroke-width="0.8"/>
<line x1="63.50" y1="323.10" x2="63.50" y2="325.40" stroke="#333" stroke-width="0.8"/>
<line x1="66.00" y1="323.10" x2="66.00" y2="325.40" stroke="#333" stroke-width="0.8"/>
<line x1="68.50" y1="323.10" x2="68.50" y2="325.40" stroke="#333" stroke-width="0.8"/>
<line x1="70.00" y1="323.10" x2="70.00" y2="325.40" stroke="#333" stroke-width="0.8"/>
<line x1="72.00" y1="323.10" x2="72.00" y2="325.40" stroke="#333" stroke-width="0.8"/>
<line x1="75.00" y1="323.10" x2="75.00" y2="325.40" stroke="#333" stroke-width="0.8"/>
<line x1="77.50" y1="323.10" x2="77.50" y2="325.40" stroke="#333" stroke-width="0.8"/>
<line x1="80.00" y1="323.10" x2="80.00" y2="325.40" stroke="#333" stroke-width="0.8"/>
<line x1="85.00" y1="323.10" x2="85.00" y2="325.40" stroke="#333" stroke-width="0.8"/>
<line x1="88.50" y1="323.10" x2="88.50" y2="325.40" stroke="#333" stroke-width="0.8"/>
<line x1="92.00" y1="323.10" x2="92.00" y2="325.40" stroke="#333" stroke-width="0.8"/>
<line x1="94.50" y1="323.10" x2="94.50" y2="325.40" stroke="#333" stroke-width="0.8"/>
<line x1="97.00" y1="323.10" x2="97.00" y2="325.40" stroke="#333" stroke-width="0.8"/>
<line x1="100.00" y1="323.10" x2="100.00" y2="325.40" stroke="#333" stroke-width="0.8"/>
<line x1="103.00" y1="323.10" x2="103.00" y2="325.40" stroke="#333" stroke-width="0.8"/>
<line x1="109.00" y1="323.10" x2="109.00" y2="325.40" stroke="#333" stroke-width="0.8"/>
<line x1="303.00" y1="158.80" x2="334.60" y2="158.80" stroke="#1a1a1a" stroke-width="1.2"/>
<path d="M338.60,158.80 L333.10,156.10 L333.10,161.50 Z" fill="#1a1a1a"/>
<text transform="translate(311.33 169.20) scale(0.889 1.000)" font-size="9.4" fill="#262626" stroke="#262626" stroke-width="0.12">MYC</text>
<line x1="49.00" y1="332.20" x2="80.50" y2="332.20" stroke="#1a1a1a" stroke-width="1.2"/>
<path d="M84.50,332.20 L79.00,329.50 L79.00,334.90 Z" fill="#1a1a1a"/>
<text transform="translate(55.57 343.40) scale(0.906 1.000)" font-size="9.4" fill="#262626" stroke="#262626" stroke-width="0.12">CD98</text>
<rect x="0" y="0" width="520" height="1.2" fill="#2b2b2b"/>
<rect x="0" y="0" width="1.2" height="501" fill="#2b2b2b"/>
<rect x="518.3" y="0" width="1.7" height="501" fill="#2b2b2b"/>
<rect x="0" y="499.6" width="520" height="1.4" fill="#2b2b2b"/>
</svg></body></html>
